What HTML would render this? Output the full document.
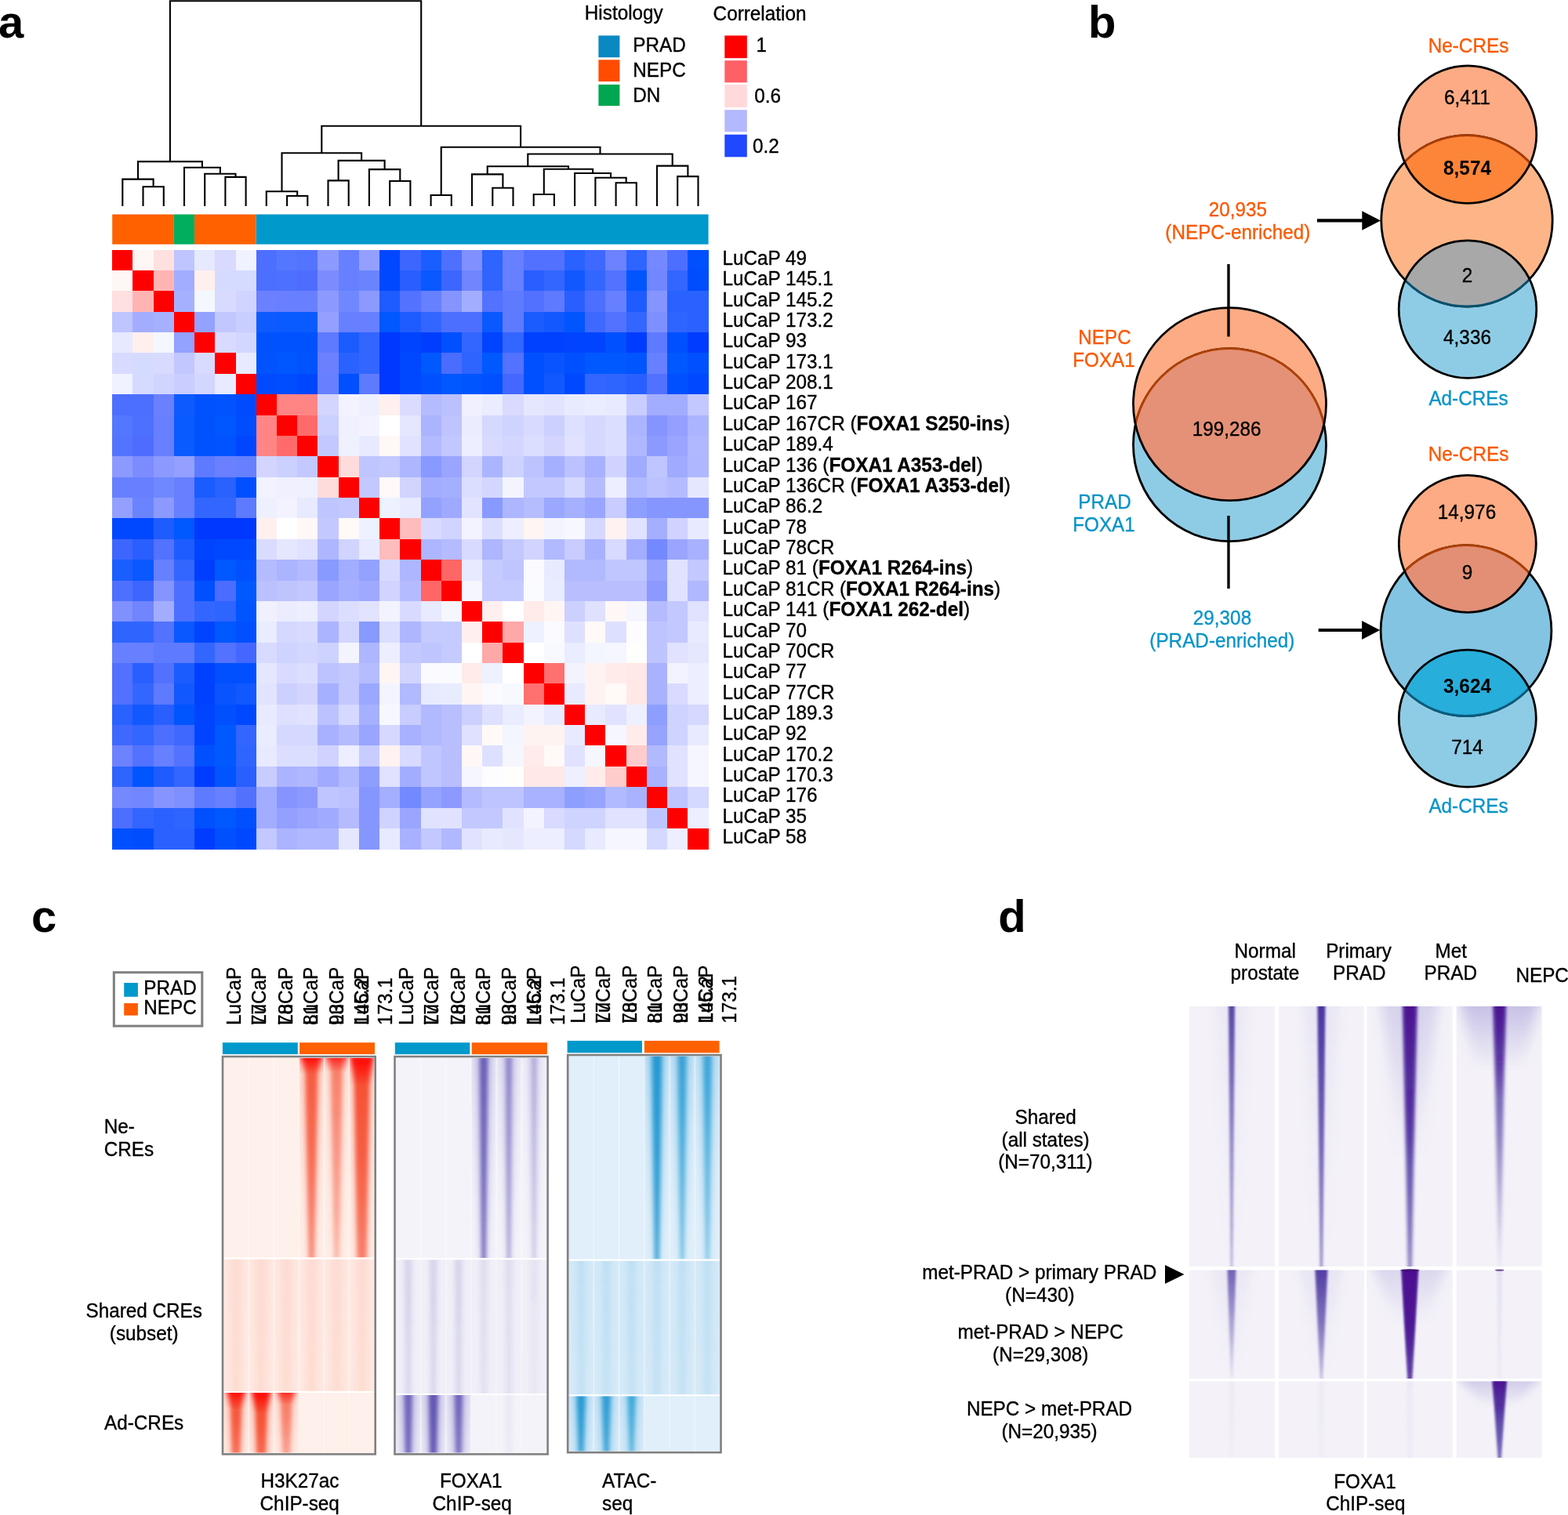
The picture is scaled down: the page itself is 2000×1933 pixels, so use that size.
<!DOCTYPE html>
<html><head><meta charset="utf-8"><title>Figure</title>
<style>
html,body{margin:0;padding:0;background:#fff;}
svg{display:block;}
text{font-family:"Liberation Sans", Arial, Helvetica, sans-serif;font-size:24.3px;}
</style></head><body>
<svg width="2000" height="1933" viewBox="0 0 2000 1933">
<g id="panel-a">
<text x="-2.0" y="48.0" style="font-size:58px" font-weight="bold">a</text>
<path d="M216.9 206.1V1.2H537.2V160.7M176.0 228.6V206.1H257.9V213.7M156.3 263.0V228.6H195.6V238.2M182.5 263.0V238.2H208.8V263.0M235.0 263.0V213.7H280.9V221.8M261.2 263.0V221.8H300.5V225.9M287.4 263.0V225.9H313.6V263.0M410.3 195.3V160.7H664.1V187.8M359.5 244.3V195.3H461.1V204.9M339.8 263.0V244.3H379.2V250.0M366.1 263.0V250.0H392.3V263.0M431.6 230.4V204.9H490.6V216.1M418.5 263.0V230.4H444.7V263.0M470.9 263.0V216.1H510.3V231.0M497.2 263.0V231.0H523.4V263.0M562.7 249.0V187.8H765.5V196.5M549.6 263.0V249.0H575.8V263.0M673.3 212.2V196.5H857.7V211.6M621.7 222.4V212.2H725.0V215.7M602.0 263.0V222.4H641.4V239.8M628.3 263.0V239.8H654.5V263.0M693.8 248.0V215.7H756.1V221.0M680.7 263.0V248.0H706.9V263.0M733.1 263.0V221.0H779.0V226.7M759.4 263.0V226.7H798.7V233.3M785.6 263.0V233.3H811.8V263.0M838.0 263.0V211.6H877.4V225.1M864.2 263.0V225.1H890.5V263.0" fill="none" stroke="#000" stroke-width="2.1" stroke-linecap="butt" stroke-linejoin="miter"/>
<rect x="143.20" y="273.5" width="78.66" height="38.2" fill="#FF6000"/>
<rect x="221.86" y="273.5" width="26.22" height="38.2" fill="#00AE5D"/>
<rect x="248.08" y="273.5" width="78.66" height="38.2" fill="#FF6000"/>
<rect x="326.74" y="273.5" width="576.84" height="38.2" fill="#0099CC"/>
<g shape-rendering="crispEdges">
<rect x="143.20" y="318.60" width="26.62" height="26.77" fill="#FF0000"/>
<rect x="169.42" y="318.60" width="26.62" height="26.77" fill="#FFF7F6"/>
<rect x="195.64" y="318.60" width="26.62" height="26.77" fill="#FFE0E0"/>
<rect x="221.86" y="318.60" width="26.62" height="26.77" fill="#BFC5FF"/>
<rect x="248.08" y="318.60" width="26.62" height="26.77" fill="#E6E9FF"/>
<rect x="274.30" y="318.60" width="26.62" height="26.77" fill="#D8DAFF"/>
<rect x="300.52" y="318.60" width="26.62" height="26.77" fill="#F0F2FF"/>
<rect x="326.74" y="318.60" width="26.62" height="26.77" fill="#4D6FFF"/>
<rect x="352.96" y="318.60" width="26.62" height="26.77" fill="#5477FF"/>
<rect x="379.18" y="318.60" width="26.62" height="26.77" fill="#5274FF"/>
<rect x="405.40" y="318.60" width="26.62" height="26.77" fill="#8C9AFF"/>
<rect x="431.62" y="318.60" width="26.62" height="26.77" fill="#6680FF"/>
<rect x="457.84" y="318.60" width="26.62" height="26.77" fill="#93A0FF"/>
<rect x="484.06" y="318.60" width="26.62" height="26.77" fill="#0048FF"/>
<rect x="510.28" y="318.60" width="26.62" height="26.77" fill="#3D66FF"/>
<rect x="536.50" y="318.60" width="26.62" height="26.77" fill="#1A5EFF"/>
<rect x="562.72" y="318.60" width="26.62" height="26.77" fill="#4D70FF"/>
<rect x="588.94" y="318.60" width="26.62" height="26.77" fill="#8090FF"/>
<rect x="615.16" y="318.60" width="26.62" height="26.77" fill="#2E64FF"/>
<rect x="641.38" y="318.60" width="26.62" height="26.77" fill="#6680FF"/>
<rect x="667.60" y="318.60" width="26.62" height="26.77" fill="#5271FF"/>
<rect x="693.82" y="318.60" width="26.62" height="26.77" fill="#5271FF"/>
<rect x="720.04" y="318.60" width="26.62" height="26.77" fill="#2962FF"/>
<rect x="746.26" y="318.60" width="26.62" height="26.77" fill="#3E68FF"/>
<rect x="772.48" y="318.60" width="26.62" height="26.77" fill="#6C82FF"/>
<rect x="798.70" y="318.60" width="26.62" height="26.77" fill="#2E64FF"/>
<rect x="824.92" y="318.60" width="26.62" height="26.77" fill="#7489FF"/>
<rect x="851.14" y="318.60" width="26.62" height="26.77" fill="#4D6FFF"/>
<rect x="877.36" y="318.60" width="26.62" height="26.77" fill="#0050FF"/>
<rect x="143.20" y="344.97" width="26.62" height="26.77" fill="#FFF7F6"/>
<rect x="169.42" y="344.97" width="26.62" height="26.77" fill="#FF0000"/>
<rect x="195.64" y="344.97" width="26.62" height="26.77" fill="#FFB4B4"/>
<rect x="221.86" y="344.97" width="26.62" height="26.77" fill="#A3ADFF"/>
<rect x="248.08" y="344.97" width="26.62" height="26.77" fill="#FFF0EE"/>
<rect x="274.30" y="344.97" width="26.62" height="26.77" fill="#D5DBFF"/>
<rect x="300.52" y="344.97" width="26.62" height="26.77" fill="#D5DBFF"/>
<rect x="326.74" y="344.97" width="26.62" height="26.77" fill="#4D6FFF"/>
<rect x="352.96" y="344.97" width="26.62" height="26.77" fill="#4E70FF"/>
<rect x="379.18" y="344.97" width="26.62" height="26.77" fill="#4E6DFF"/>
<rect x="405.40" y="344.97" width="26.62" height="26.77" fill="#7C8CFF"/>
<rect x="431.62" y="344.97" width="26.62" height="26.77" fill="#6680FF"/>
<rect x="457.84" y="344.97" width="26.62" height="26.77" fill="#6A84FF"/>
<rect x="484.06" y="344.97" width="26.62" height="26.77" fill="#0048FF"/>
<rect x="510.28" y="344.97" width="26.62" height="26.77" fill="#2A5EFF"/>
<rect x="536.50" y="344.97" width="26.62" height="26.77" fill="#0A58FF"/>
<rect x="562.72" y="344.97" width="26.62" height="26.77" fill="#3D66FF"/>
<rect x="588.94" y="344.97" width="26.62" height="26.77" fill="#7085FF"/>
<rect x="615.16" y="344.97" width="26.62" height="26.77" fill="#3064FF"/>
<rect x="641.38" y="344.97" width="26.62" height="26.77" fill="#6680FF"/>
<rect x="667.60" y="344.97" width="26.62" height="26.77" fill="#295FFF"/>
<rect x="693.82" y="344.97" width="26.62" height="26.77" fill="#3366FF"/>
<rect x="720.04" y="344.97" width="26.62" height="26.77" fill="#1258FF"/>
<rect x="746.26" y="344.97" width="26.62" height="26.77" fill="#3366FF"/>
<rect x="772.48" y="344.97" width="26.62" height="26.77" fill="#5272FF"/>
<rect x="798.70" y="344.97" width="26.62" height="26.77" fill="#0055FF"/>
<rect x="824.92" y="344.97" width="26.62" height="26.77" fill="#7087FF"/>
<rect x="851.14" y="344.97" width="26.62" height="26.77" fill="#3366FF"/>
<rect x="877.36" y="344.97" width="26.62" height="26.77" fill="#004CFF"/>
<rect x="143.20" y="371.34" width="26.62" height="26.77" fill="#FFE0E0"/>
<rect x="169.42" y="371.34" width="26.62" height="26.77" fill="#FFB4B4"/>
<rect x="195.64" y="371.34" width="26.62" height="26.77" fill="#FF0000"/>
<rect x="221.86" y="371.34" width="26.62" height="26.77" fill="#A5B1FF"/>
<rect x="248.08" y="371.34" width="26.62" height="26.77" fill="#F5F7FE"/>
<rect x="274.30" y="371.34" width="26.62" height="26.77" fill="#D8DBFF"/>
<rect x="300.52" y="371.34" width="26.62" height="26.77" fill="#D0D4FF"/>
<rect x="326.74" y="371.34" width="26.62" height="26.77" fill="#6A80FF"/>
<rect x="352.96" y="371.34" width="26.62" height="26.77" fill="#6880FF"/>
<rect x="379.18" y="371.34" width="26.62" height="26.77" fill="#6880FF"/>
<rect x="405.40" y="371.34" width="26.62" height="26.77" fill="#8C9AFF"/>
<rect x="431.62" y="371.34" width="26.62" height="26.77" fill="#7088FF"/>
<rect x="457.84" y="371.34" width="26.62" height="26.77" fill="#8C9AFF"/>
<rect x="484.06" y="371.34" width="26.62" height="26.77" fill="#1E5CFF"/>
<rect x="510.28" y="371.34" width="26.62" height="26.77" fill="#5272FF"/>
<rect x="536.50" y="371.34" width="26.62" height="26.77" fill="#6680FF"/>
<rect x="562.72" y="371.34" width="26.62" height="26.77" fill="#8594FF"/>
<rect x="588.94" y="371.34" width="26.62" height="26.77" fill="#A3ADFF"/>
<rect x="615.16" y="371.34" width="26.62" height="26.77" fill="#5272FF"/>
<rect x="641.38" y="371.34" width="26.62" height="26.77" fill="#5E7AFF"/>
<rect x="667.60" y="371.34" width="26.62" height="26.77" fill="#5271FF"/>
<rect x="693.82" y="371.34" width="26.62" height="26.77" fill="#5E7AFF"/>
<rect x="720.04" y="371.34" width="26.62" height="26.77" fill="#295FFF"/>
<rect x="746.26" y="371.34" width="26.62" height="26.77" fill="#4D6FFF"/>
<rect x="772.48" y="371.34" width="26.62" height="26.77" fill="#6680FF"/>
<rect x="798.70" y="371.34" width="26.62" height="26.77" fill="#1E5CFF"/>
<rect x="824.92" y="371.34" width="26.62" height="26.77" fill="#8594FF"/>
<rect x="851.14" y="371.34" width="26.62" height="26.77" fill="#2962FF"/>
<rect x="877.36" y="371.34" width="26.62" height="26.77" fill="#2962FF"/>
<rect x="143.20" y="397.71" width="26.62" height="26.77" fill="#BFC5FF"/>
<rect x="169.42" y="397.71" width="26.62" height="26.77" fill="#A3ADFF"/>
<rect x="195.64" y="397.71" width="26.62" height="26.77" fill="#A5B1FF"/>
<rect x="221.86" y="397.71" width="26.62" height="26.77" fill="#FF0000"/>
<rect x="248.08" y="397.71" width="26.62" height="26.77" fill="#93A1FF"/>
<rect x="274.30" y="397.71" width="26.62" height="26.77" fill="#C3C7FF"/>
<rect x="300.52" y="397.71" width="26.62" height="26.77" fill="#C9CDFF"/>
<rect x="326.74" y="397.71" width="26.62" height="26.77" fill="#0D5BFF"/>
<rect x="352.96" y="397.71" width="26.62" height="26.77" fill="#0A5BFF"/>
<rect x="379.18" y="397.71" width="26.62" height="26.77" fill="#0A5BFF"/>
<rect x="405.40" y="397.71" width="26.62" height="26.77" fill="#93A0FF"/>
<rect x="431.62" y="397.71" width="26.62" height="26.77" fill="#6680FF"/>
<rect x="457.84" y="397.71" width="26.62" height="26.77" fill="#6680FF"/>
<rect x="484.06" y="397.71" width="26.62" height="26.77" fill="#0058FF"/>
<rect x="510.28" y="397.71" width="26.62" height="26.77" fill="#1E5CFF"/>
<rect x="536.50" y="397.71" width="26.62" height="26.77" fill="#3366FF"/>
<rect x="562.72" y="397.71" width="26.62" height="26.77" fill="#4D6FFF"/>
<rect x="588.94" y="397.71" width="26.62" height="26.77" fill="#4D6FFF"/>
<rect x="615.16" y="397.71" width="26.62" height="26.77" fill="#0A58FF"/>
<rect x="641.38" y="397.71" width="26.62" height="26.77" fill="#5E7AFF"/>
<rect x="667.60" y="397.71" width="26.62" height="26.77" fill="#1A5CFF"/>
<rect x="693.82" y="397.71" width="26.62" height="26.77" fill="#1258FF"/>
<rect x="720.04" y="397.71" width="26.62" height="26.77" fill="#0055FF"/>
<rect x="746.26" y="397.71" width="26.62" height="26.77" fill="#3E68FF"/>
<rect x="772.48" y="397.71" width="26.62" height="26.77" fill="#5272FF"/>
<rect x="798.70" y="397.71" width="26.62" height="26.77" fill="#3366FF"/>
<rect x="824.92" y="397.71" width="26.62" height="26.77" fill="#7E90FF"/>
<rect x="851.14" y="397.71" width="26.62" height="26.77" fill="#2E64FF"/>
<rect x="877.36" y="397.71" width="26.62" height="26.77" fill="#2962FF"/>
<rect x="143.20" y="424.08" width="26.62" height="26.77" fill="#E6E9FF"/>
<rect x="169.42" y="424.08" width="26.62" height="26.77" fill="#FFF0EE"/>
<rect x="195.64" y="424.08" width="26.62" height="26.77" fill="#F5F7FE"/>
<rect x="221.86" y="424.08" width="26.62" height="26.77" fill="#93A1FF"/>
<rect x="248.08" y="424.08" width="26.62" height="26.77" fill="#FF0000"/>
<rect x="274.30" y="424.08" width="26.62" height="26.77" fill="#D8DBFF"/>
<rect x="300.52" y="424.08" width="26.62" height="26.77" fill="#D3D6FF"/>
<rect x="326.74" y="424.08" width="26.62" height="26.77" fill="#0052FF"/>
<rect x="352.96" y="424.08" width="26.62" height="26.77" fill="#0052FF"/>
<rect x="379.18" y="424.08" width="26.62" height="26.77" fill="#0052FF"/>
<rect x="405.40" y="424.08" width="26.62" height="26.77" fill="#5E7AFF"/>
<rect x="431.62" y="424.08" width="26.62" height="26.77" fill="#1A5CFF"/>
<rect x="457.84" y="424.08" width="26.62" height="26.77" fill="#3366FF"/>
<rect x="484.06" y="424.08" width="26.62" height="26.77" fill="#0038FF"/>
<rect x="510.28" y="424.08" width="26.62" height="26.77" fill="#0044FF"/>
<rect x="536.50" y="424.08" width="26.62" height="26.77" fill="#003EFF"/>
<rect x="562.72" y="424.08" width="26.62" height="26.77" fill="#0050FF"/>
<rect x="588.94" y="424.08" width="26.62" height="26.77" fill="#3366FF"/>
<rect x="615.16" y="424.08" width="26.62" height="26.77" fill="#0044FF"/>
<rect x="641.38" y="424.08" width="26.62" height="26.77" fill="#3366FF"/>
<rect x="667.60" y="424.08" width="26.62" height="26.77" fill="#0040FF"/>
<rect x="693.82" y="424.08" width="26.62" height="26.77" fill="#0040FF"/>
<rect x="720.04" y="424.08" width="26.62" height="26.77" fill="#0044FF"/>
<rect x="746.26" y="424.08" width="26.62" height="26.77" fill="#0044FF"/>
<rect x="772.48" y="424.08" width="26.62" height="26.77" fill="#0050FF"/>
<rect x="798.70" y="424.08" width="26.62" height="26.77" fill="#003CFF"/>
<rect x="824.92" y="424.08" width="26.62" height="26.77" fill="#5E7AFF"/>
<rect x="851.14" y="424.08" width="26.62" height="26.77" fill="#0050FF"/>
<rect x="877.36" y="424.08" width="26.62" height="26.77" fill="#003CFF"/>
<rect x="143.20" y="450.45" width="26.62" height="26.77" fill="#D8DAFF"/>
<rect x="169.42" y="450.45" width="26.62" height="26.77" fill="#D5DBFF"/>
<rect x="195.64" y="450.45" width="26.62" height="26.77" fill="#D8DBFF"/>
<rect x="221.86" y="450.45" width="26.62" height="26.77" fill="#C3C7FF"/>
<rect x="248.08" y="450.45" width="26.62" height="26.77" fill="#D8DBFF"/>
<rect x="274.30" y="450.45" width="26.62" height="26.77" fill="#FF0000"/>
<rect x="300.52" y="450.45" width="26.62" height="26.77" fill="#E8EAFF"/>
<rect x="326.74" y="450.45" width="26.62" height="26.77" fill="#0053FF"/>
<rect x="352.96" y="450.45" width="26.62" height="26.77" fill="#0057FF"/>
<rect x="379.18" y="450.45" width="26.62" height="26.77" fill="#0053FF"/>
<rect x="405.40" y="450.45" width="26.62" height="26.77" fill="#6A80FF"/>
<rect x="431.62" y="450.45" width="26.62" height="26.77" fill="#2962FF"/>
<rect x="457.84" y="450.45" width="26.62" height="26.77" fill="#3366FF"/>
<rect x="484.06" y="450.45" width="26.62" height="26.77" fill="#0038FF"/>
<rect x="510.28" y="450.45" width="26.62" height="26.77" fill="#0048FF"/>
<rect x="536.50" y="450.45" width="26.62" height="26.77" fill="#0058FF"/>
<rect x="562.72" y="450.45" width="26.62" height="26.77" fill="#4A6CFF"/>
<rect x="588.94" y="450.45" width="26.62" height="26.77" fill="#2E64FF"/>
<rect x="615.16" y="450.45" width="26.62" height="26.77" fill="#0058FF"/>
<rect x="641.38" y="450.45" width="26.62" height="26.77" fill="#5272FF"/>
<rect x="667.60" y="450.45" width="26.62" height="26.77" fill="#0050FF"/>
<rect x="693.82" y="450.45" width="26.62" height="26.77" fill="#0A54FF"/>
<rect x="720.04" y="450.45" width="26.62" height="26.77" fill="#0050FF"/>
<rect x="746.26" y="450.45" width="26.62" height="26.77" fill="#0058FF"/>
<rect x="772.48" y="450.45" width="26.62" height="26.77" fill="#0058FF"/>
<rect x="798.70" y="450.45" width="26.62" height="26.77" fill="#0055FF"/>
<rect x="824.92" y="450.45" width="26.62" height="26.77" fill="#6680FF"/>
<rect x="851.14" y="450.45" width="26.62" height="26.77" fill="#0058FF"/>
<rect x="877.36" y="450.45" width="26.62" height="26.77" fill="#0050FF"/>
<rect x="143.20" y="476.82" width="26.62" height="26.77" fill="#F0F2FF"/>
<rect x="169.42" y="476.82" width="26.62" height="26.77" fill="#D5DBFF"/>
<rect x="195.64" y="476.82" width="26.62" height="26.77" fill="#D0D4FF"/>
<rect x="221.86" y="476.82" width="26.62" height="26.77" fill="#C9CDFF"/>
<rect x="248.08" y="476.82" width="26.62" height="26.77" fill="#D3D6FF"/>
<rect x="274.30" y="476.82" width="26.62" height="26.77" fill="#E8EAFF"/>
<rect x="300.52" y="476.82" width="26.62" height="26.77" fill="#FF0000"/>
<rect x="326.74" y="476.82" width="26.62" height="26.77" fill="#004AFF"/>
<rect x="352.96" y="476.82" width="26.62" height="26.77" fill="#004CFF"/>
<rect x="379.18" y="476.82" width="26.62" height="26.77" fill="#0046FF"/>
<rect x="405.40" y="476.82" width="26.62" height="26.77" fill="#6680FF"/>
<rect x="431.62" y="476.82" width="26.62" height="26.77" fill="#0050FF"/>
<rect x="457.84" y="476.82" width="26.62" height="26.77" fill="#5E7AFF"/>
<rect x="484.06" y="476.82" width="26.62" height="26.77" fill="#0038FF"/>
<rect x="510.28" y="476.82" width="26.62" height="26.77" fill="#0048FF"/>
<rect x="536.50" y="476.82" width="26.62" height="26.77" fill="#0050FF"/>
<rect x="562.72" y="476.82" width="26.62" height="26.77" fill="#0058FF"/>
<rect x="588.94" y="476.82" width="26.62" height="26.77" fill="#0055FF"/>
<rect x="615.16" y="476.82" width="26.62" height="26.77" fill="#0050FF"/>
<rect x="641.38" y="476.82" width="26.62" height="26.77" fill="#4468FF"/>
<rect x="667.60" y="476.82" width="26.62" height="26.77" fill="#0050FF"/>
<rect x="693.82" y="476.82" width="26.62" height="26.77" fill="#1258FF"/>
<rect x="720.04" y="476.82" width="26.62" height="26.77" fill="#0048FF"/>
<rect x="746.26" y="476.82" width="26.62" height="26.77" fill="#3366FF"/>
<rect x="772.48" y="476.82" width="26.62" height="26.77" fill="#2E64FF"/>
<rect x="798.70" y="476.82" width="26.62" height="26.77" fill="#295FFF"/>
<rect x="824.92" y="476.82" width="26.62" height="26.77" fill="#5271FF"/>
<rect x="851.14" y="476.82" width="26.62" height="26.77" fill="#0050FF"/>
<rect x="877.36" y="476.82" width="26.62" height="26.77" fill="#0048FF"/>
<rect x="143.20" y="503.19" width="26.62" height="26.77" fill="#4D6FFF"/>
<rect x="169.42" y="503.19" width="26.62" height="26.77" fill="#4D6FFF"/>
<rect x="195.64" y="503.19" width="26.62" height="26.77" fill="#6A80FF"/>
<rect x="221.86" y="503.19" width="26.62" height="26.77" fill="#0D5BFF"/>
<rect x="248.08" y="503.19" width="26.62" height="26.77" fill="#0052FF"/>
<rect x="274.30" y="503.19" width="26.62" height="26.77" fill="#0053FF"/>
<rect x="300.52" y="503.19" width="26.62" height="26.77" fill="#004AFF"/>
<rect x="326.74" y="503.19" width="26.62" height="26.77" fill="#FF0000"/>
<rect x="352.96" y="503.19" width="26.62" height="26.77" fill="#FF8585"/>
<rect x="379.18" y="503.19" width="26.62" height="26.77" fill="#FF8585"/>
<rect x="405.40" y="503.19" width="26.62" height="26.77" fill="#D3D5FF"/>
<rect x="431.62" y="503.19" width="26.62" height="26.77" fill="#F3F3FF"/>
<rect x="457.84" y="503.19" width="26.62" height="26.77" fill="#EEF0FF"/>
<rect x="484.06" y="503.19" width="26.62" height="26.77" fill="#FFF0EE"/>
<rect x="510.28" y="503.19" width="26.62" height="26.77" fill="#DADCFF"/>
<rect x="536.50" y="503.19" width="26.62" height="26.77" fill="#B5BBFF"/>
<rect x="562.72" y="503.19" width="26.62" height="26.77" fill="#BBC0FF"/>
<rect x="588.94" y="503.19" width="26.62" height="26.77" fill="#F0F0FF"/>
<rect x="615.16" y="503.19" width="26.62" height="26.77" fill="#EAECFF"/>
<rect x="641.38" y="503.19" width="26.62" height="26.77" fill="#D8DBFF"/>
<rect x="667.60" y="503.19" width="26.62" height="26.77" fill="#E5E7FF"/>
<rect x="693.82" y="503.19" width="26.62" height="26.77" fill="#E2E4FF"/>
<rect x="720.04" y="503.19" width="26.62" height="26.77" fill="#E8EAFF"/>
<rect x="746.26" y="503.19" width="26.62" height="26.77" fill="#EAECFF"/>
<rect x="772.48" y="503.19" width="26.62" height="26.77" fill="#E8EAFF"/>
<rect x="798.70" y="503.19" width="26.62" height="26.77" fill="#C8CCFF"/>
<rect x="824.92" y="503.19" width="26.62" height="26.77" fill="#A3ADFF"/>
<rect x="851.14" y="503.19" width="26.62" height="26.77" fill="#A3ADFF"/>
<rect x="877.36" y="503.19" width="26.62" height="26.77" fill="#C3C8FF"/>
<rect x="143.20" y="529.56" width="26.62" height="26.77" fill="#5477FF"/>
<rect x="169.42" y="529.56" width="26.62" height="26.77" fill="#4E70FF"/>
<rect x="195.64" y="529.56" width="26.62" height="26.77" fill="#6880FF"/>
<rect x="221.86" y="529.56" width="26.62" height="26.77" fill="#0A5BFF"/>
<rect x="248.08" y="529.56" width="26.62" height="26.77" fill="#0052FF"/>
<rect x="274.30" y="529.56" width="26.62" height="26.77" fill="#0057FF"/>
<rect x="300.52" y="529.56" width="26.62" height="26.77" fill="#004CFF"/>
<rect x="326.74" y="529.56" width="26.62" height="26.77" fill="#FF8585"/>
<rect x="352.96" y="529.56" width="26.62" height="26.77" fill="#FF0000"/>
<rect x="379.18" y="529.56" width="26.62" height="26.77" fill="#FF6B6B"/>
<rect x="405.40" y="529.56" width="26.62" height="26.77" fill="#CBD0FF"/>
<rect x="431.62" y="529.56" width="26.62" height="26.77" fill="#F0F0FF"/>
<rect x="457.84" y="529.56" width="26.62" height="26.77" fill="#F3F3FF"/>
<rect x="484.06" y="529.56" width="26.62" height="26.77" fill="#FFFFFF"/>
<rect x="510.28" y="529.56" width="26.62" height="26.77" fill="#E5E6FF"/>
<rect x="536.50" y="529.56" width="26.62" height="26.77" fill="#ABB4FF"/>
<rect x="562.72" y="529.56" width="26.62" height="26.77" fill="#BFC4FF"/>
<rect x="588.94" y="529.56" width="26.62" height="26.77" fill="#EBEDFF"/>
<rect x="615.16" y="529.56" width="26.62" height="26.77" fill="#D5D8FF"/>
<rect x="641.38" y="529.56" width="26.62" height="26.77" fill="#CED3FF"/>
<rect x="667.60" y="529.56" width="26.62" height="26.77" fill="#D8DBFF"/>
<rect x="693.82" y="529.56" width="26.62" height="26.77" fill="#CBD0FF"/>
<rect x="720.04" y="529.56" width="26.62" height="26.77" fill="#DEE0FF"/>
<rect x="746.26" y="529.56" width="26.62" height="26.77" fill="#D5D8FF"/>
<rect x="772.48" y="529.56" width="26.62" height="26.77" fill="#DCDEFF"/>
<rect x="798.70" y="529.56" width="26.62" height="26.77" fill="#ABB4FF"/>
<rect x="824.92" y="529.56" width="26.62" height="26.77" fill="#8594FF"/>
<rect x="851.14" y="529.56" width="26.62" height="26.77" fill="#93A0FF"/>
<rect x="877.36" y="529.56" width="26.62" height="26.77" fill="#ABB4FF"/>
<rect x="143.20" y="555.93" width="26.62" height="26.77" fill="#5274FF"/>
<rect x="169.42" y="555.93" width="26.62" height="26.77" fill="#4E6DFF"/>
<rect x="195.64" y="555.93" width="26.62" height="26.77" fill="#6880FF"/>
<rect x="221.86" y="555.93" width="26.62" height="26.77" fill="#0A5BFF"/>
<rect x="248.08" y="555.93" width="26.62" height="26.77" fill="#0052FF"/>
<rect x="274.30" y="555.93" width="26.62" height="26.77" fill="#0053FF"/>
<rect x="300.52" y="555.93" width="26.62" height="26.77" fill="#0046FF"/>
<rect x="326.74" y="555.93" width="26.62" height="26.77" fill="#FF8585"/>
<rect x="352.96" y="555.93" width="26.62" height="26.77" fill="#FF6B6B"/>
<rect x="379.18" y="555.93" width="26.62" height="26.77" fill="#FF0000"/>
<rect x="405.40" y="555.93" width="26.62" height="26.77" fill="#C3C8FF"/>
<rect x="431.62" y="555.93" width="26.62" height="26.77" fill="#F0F1FF"/>
<rect x="457.84" y="555.93" width="26.62" height="26.77" fill="#E8EAFF"/>
<rect x="484.06" y="555.93" width="26.62" height="26.77" fill="#FFF8F6"/>
<rect x="510.28" y="555.93" width="26.62" height="26.77" fill="#E0E2FF"/>
<rect x="536.50" y="555.93" width="26.62" height="26.77" fill="#B3BAFF"/>
<rect x="562.72" y="555.93" width="26.62" height="26.77" fill="#C3C7FF"/>
<rect x="588.94" y="555.93" width="26.62" height="26.77" fill="#EDEEFF"/>
<rect x="615.16" y="555.93" width="26.62" height="26.77" fill="#D8DBFF"/>
<rect x="641.38" y="555.93" width="26.62" height="26.77" fill="#D3D6FF"/>
<rect x="667.60" y="555.93" width="26.62" height="26.77" fill="#DCDEFF"/>
<rect x="693.82" y="555.93" width="26.62" height="26.77" fill="#D3D5FF"/>
<rect x="720.04" y="555.93" width="26.62" height="26.77" fill="#E0E2FF"/>
<rect x="746.26" y="555.93" width="26.62" height="26.77" fill="#D5D8FF"/>
<rect x="772.48" y="555.93" width="26.62" height="26.77" fill="#DCDEFF"/>
<rect x="798.70" y="555.93" width="26.62" height="26.77" fill="#AFB8FF"/>
<rect x="824.92" y="555.93" width="26.62" height="26.77" fill="#8C9AFF"/>
<rect x="851.14" y="555.93" width="26.62" height="26.77" fill="#9AA5FF"/>
<rect x="877.36" y="555.93" width="26.62" height="26.77" fill="#B0B8FF"/>
<rect x="143.20" y="582.30" width="26.62" height="26.77" fill="#8C9AFF"/>
<rect x="169.42" y="582.30" width="26.62" height="26.77" fill="#7C8CFF"/>
<rect x="195.64" y="582.30" width="26.62" height="26.77" fill="#8C9AFF"/>
<rect x="221.86" y="582.30" width="26.62" height="26.77" fill="#93A0FF"/>
<rect x="248.08" y="582.30" width="26.62" height="26.77" fill="#5E7AFF"/>
<rect x="274.30" y="582.30" width="26.62" height="26.77" fill="#6A80FF"/>
<rect x="300.52" y="582.30" width="26.62" height="26.77" fill="#6680FF"/>
<rect x="326.74" y="582.30" width="26.62" height="26.77" fill="#D3D5FF"/>
<rect x="352.96" y="582.30" width="26.62" height="26.77" fill="#CBD0FF"/>
<rect x="379.18" y="582.30" width="26.62" height="26.77" fill="#C3C8FF"/>
<rect x="405.40" y="582.30" width="26.62" height="26.77" fill="#FF0000"/>
<rect x="431.62" y="582.30" width="26.62" height="26.77" fill="#FFDCDC"/>
<rect x="457.84" y="582.30" width="26.62" height="26.77" fill="#BFC6FF"/>
<rect x="484.06" y="582.30" width="26.62" height="26.77" fill="#C3C8FF"/>
<rect x="510.28" y="582.30" width="26.62" height="26.77" fill="#ADB6FF"/>
<rect x="536.50" y="582.30" width="26.62" height="26.77" fill="#8899FF"/>
<rect x="562.72" y="582.30" width="26.62" height="26.77" fill="#9AA5FF"/>
<rect x="588.94" y="582.30" width="26.62" height="26.77" fill="#D3D5FF"/>
<rect x="615.16" y="582.30" width="26.62" height="26.77" fill="#ABB4FF"/>
<rect x="641.38" y="582.30" width="26.62" height="26.77" fill="#CDD2FF"/>
<rect x="667.60" y="582.30" width="26.62" height="26.77" fill="#BDC3FF"/>
<rect x="693.82" y="582.30" width="26.62" height="26.77" fill="#A5B0FF"/>
<rect x="720.04" y="582.30" width="26.62" height="26.77" fill="#BBC2FF"/>
<rect x="746.26" y="582.30" width="26.62" height="26.77" fill="#A8B1FF"/>
<rect x="772.48" y="582.30" width="26.62" height="26.77" fill="#D0D3FF"/>
<rect x="798.70" y="582.30" width="26.62" height="26.77" fill="#A0ABFF"/>
<rect x="824.92" y="582.30" width="26.62" height="26.77" fill="#BFC5FF"/>
<rect x="851.14" y="582.30" width="26.62" height="26.77" fill="#A0ABFF"/>
<rect x="877.36" y="582.30" width="26.62" height="26.77" fill="#AFB8FF"/>
<rect x="143.20" y="608.67" width="26.62" height="26.77" fill="#6680FF"/>
<rect x="169.42" y="608.67" width="26.62" height="26.77" fill="#6680FF"/>
<rect x="195.64" y="608.67" width="26.62" height="26.77" fill="#7088FF"/>
<rect x="221.86" y="608.67" width="26.62" height="26.77" fill="#6680FF"/>
<rect x="248.08" y="608.67" width="26.62" height="26.77" fill="#1A5CFF"/>
<rect x="274.30" y="608.67" width="26.62" height="26.77" fill="#2962FF"/>
<rect x="300.52" y="608.67" width="26.62" height="26.77" fill="#0050FF"/>
<rect x="326.74" y="608.67" width="26.62" height="26.77" fill="#F3F3FF"/>
<rect x="352.96" y="608.67" width="26.62" height="26.77" fill="#F0F0FF"/>
<rect x="379.18" y="608.67" width="26.62" height="26.77" fill="#F0F1FF"/>
<rect x="405.40" y="608.67" width="26.62" height="26.77" fill="#FFDCDC"/>
<rect x="431.62" y="608.67" width="26.62" height="26.77" fill="#FF0000"/>
<rect x="457.84" y="608.67" width="26.62" height="26.77" fill="#C3C8FF"/>
<rect x="484.06" y="608.67" width="26.62" height="26.77" fill="#FFF9F8"/>
<rect x="510.28" y="608.67" width="26.62" height="26.77" fill="#D0D4FF"/>
<rect x="536.50" y="608.67" width="26.62" height="26.77" fill="#A3ADFF"/>
<rect x="562.72" y="608.67" width="26.62" height="26.77" fill="#A5AFFF"/>
<rect x="588.94" y="608.67" width="26.62" height="26.77" fill="#DCDEFF"/>
<rect x="615.16" y="608.67" width="26.62" height="26.77" fill="#D3D6FF"/>
<rect x="641.38" y="608.67" width="26.62" height="26.77" fill="#F3F4FF"/>
<rect x="667.60" y="608.67" width="26.62" height="26.77" fill="#C3C8FF"/>
<rect x="693.82" y="608.67" width="26.62" height="26.77" fill="#C3C8FF"/>
<rect x="720.04" y="608.67" width="26.62" height="26.77" fill="#D5D8FF"/>
<rect x="746.26" y="608.67" width="26.62" height="26.77" fill="#B5BBFF"/>
<rect x="772.48" y="608.67" width="26.62" height="26.77" fill="#EDEEFF"/>
<rect x="798.70" y="608.67" width="26.62" height="26.77" fill="#B1B9FF"/>
<rect x="824.92" y="608.67" width="26.62" height="26.77" fill="#BCC2FF"/>
<rect x="851.14" y="608.67" width="26.62" height="26.77" fill="#B5BBFF"/>
<rect x="877.36" y="608.67" width="26.62" height="26.77" fill="#E5E7FF"/>
<rect x="143.20" y="635.04" width="26.62" height="26.77" fill="#93A0FF"/>
<rect x="169.42" y="635.04" width="26.62" height="26.77" fill="#6A84FF"/>
<rect x="195.64" y="635.04" width="26.62" height="26.77" fill="#8C9AFF"/>
<rect x="221.86" y="635.04" width="26.62" height="26.77" fill="#6680FF"/>
<rect x="248.08" y="635.04" width="26.62" height="26.77" fill="#3366FF"/>
<rect x="274.30" y="635.04" width="26.62" height="26.77" fill="#3366FF"/>
<rect x="300.52" y="635.04" width="26.62" height="26.77" fill="#5E7AFF"/>
<rect x="326.74" y="635.04" width="26.62" height="26.77" fill="#EEF0FF"/>
<rect x="352.96" y="635.04" width="26.62" height="26.77" fill="#F3F3FF"/>
<rect x="379.18" y="635.04" width="26.62" height="26.77" fill="#E8EAFF"/>
<rect x="405.40" y="635.04" width="26.62" height="26.77" fill="#BFC6FF"/>
<rect x="431.62" y="635.04" width="26.62" height="26.77" fill="#C3C8FF"/>
<rect x="457.84" y="635.04" width="26.62" height="26.77" fill="#FF0000"/>
<rect x="484.06" y="635.04" width="26.62" height="26.77" fill="#EEF1FF"/>
<rect x="510.28" y="635.04" width="26.62" height="26.77" fill="#E8EAFF"/>
<rect x="536.50" y="635.04" width="26.62" height="26.77" fill="#93A1FF"/>
<rect x="562.72" y="635.04" width="26.62" height="26.77" fill="#9EA9FF"/>
<rect x="588.94" y="635.04" width="26.62" height="26.77" fill="#E2E4FF"/>
<rect x="615.16" y="635.04" width="26.62" height="26.77" fill="#8899FF"/>
<rect x="641.38" y="635.04" width="26.62" height="26.77" fill="#ADB6FF"/>
<rect x="667.60" y="635.04" width="26.62" height="26.77" fill="#B5BDFF"/>
<rect x="693.82" y="635.04" width="26.62" height="26.77" fill="#9AA8FF"/>
<rect x="720.04" y="635.04" width="26.62" height="26.77" fill="#A5B0FF"/>
<rect x="746.26" y="635.04" width="26.62" height="26.77" fill="#9AA5FF"/>
<rect x="772.48" y="635.04" width="26.62" height="26.77" fill="#C8CCFF"/>
<rect x="798.70" y="635.04" width="26.62" height="26.77" fill="#8E9EFF"/>
<rect x="824.92" y="635.04" width="26.62" height="26.77" fill="#8696FF"/>
<rect x="851.14" y="635.04" width="26.62" height="26.77" fill="#8696FF"/>
<rect x="877.36" y="635.04" width="26.62" height="26.77" fill="#8696FF"/>
<rect x="143.20" y="661.41" width="26.62" height="26.77" fill="#0048FF"/>
<rect x="169.42" y="661.41" width="26.62" height="26.77" fill="#0048FF"/>
<rect x="195.64" y="661.41" width="26.62" height="26.77" fill="#1E5CFF"/>
<rect x="221.86" y="661.41" width="26.62" height="26.77" fill="#0058FF"/>
<rect x="248.08" y="661.41" width="26.62" height="26.77" fill="#0038FF"/>
<rect x="274.30" y="661.41" width="26.62" height="26.77" fill="#0038FF"/>
<rect x="300.52" y="661.41" width="26.62" height="26.77" fill="#0038FF"/>
<rect x="326.74" y="661.41" width="26.62" height="26.77" fill="#FFF0EE"/>
<rect x="352.96" y="661.41" width="26.62" height="26.77" fill="#FFFFFF"/>
<rect x="379.18" y="661.41" width="26.62" height="26.77" fill="#FFF8F6"/>
<rect x="405.40" y="661.41" width="26.62" height="26.77" fill="#C3C8FF"/>
<rect x="431.62" y="661.41" width="26.62" height="26.77" fill="#FFF9F8"/>
<rect x="457.84" y="661.41" width="26.62" height="26.77" fill="#EEF1FF"/>
<rect x="484.06" y="661.41" width="26.62" height="26.77" fill="#FF0000"/>
<rect x="510.28" y="661.41" width="26.62" height="26.77" fill="#FFBCBC"/>
<rect x="536.50" y="661.41" width="26.62" height="26.77" fill="#D8DBFF"/>
<rect x="562.72" y="661.41" width="26.62" height="26.77" fill="#D0D4FF"/>
<rect x="588.94" y="661.41" width="26.62" height="26.77" fill="#F3F3FF"/>
<rect x="615.16" y="661.41" width="26.62" height="26.77" fill="#DCDEFF"/>
<rect x="641.38" y="661.41" width="26.62" height="26.77" fill="#EDEEFF"/>
<rect x="667.60" y="661.41" width="26.62" height="26.77" fill="#FFF5F3"/>
<rect x="693.82" y="661.41" width="26.62" height="26.77" fill="#F3F4FF"/>
<rect x="720.04" y="661.41" width="26.62" height="26.77" fill="#F7F8FF"/>
<rect x="746.26" y="661.41" width="26.62" height="26.77" fill="#D5D8FF"/>
<rect x="772.48" y="661.41" width="26.62" height="26.77" fill="#FFF2F0"/>
<rect x="798.70" y="661.41" width="26.62" height="26.77" fill="#E0E2FF"/>
<rect x="824.92" y="661.41" width="26.62" height="26.77" fill="#A5AFFF"/>
<rect x="851.14" y="661.41" width="26.62" height="26.77" fill="#D0D3FF"/>
<rect x="877.36" y="661.41" width="26.62" height="26.77" fill="#E8EAFF"/>
<rect x="143.20" y="687.78" width="26.62" height="26.77" fill="#3D66FF"/>
<rect x="169.42" y="687.78" width="26.62" height="26.77" fill="#2A5EFF"/>
<rect x="195.64" y="687.78" width="26.62" height="26.77" fill="#5272FF"/>
<rect x="221.86" y="687.78" width="26.62" height="26.77" fill="#1E5CFF"/>
<rect x="248.08" y="687.78" width="26.62" height="26.77" fill="#0044FF"/>
<rect x="274.30" y="687.78" width="26.62" height="26.77" fill="#0048FF"/>
<rect x="300.52" y="687.78" width="26.62" height="26.77" fill="#0048FF"/>
<rect x="326.74" y="687.78" width="26.62" height="26.77" fill="#DADCFF"/>
<rect x="352.96" y="687.78" width="26.62" height="26.77" fill="#E5E6FF"/>
<rect x="379.18" y="687.78" width="26.62" height="26.77" fill="#E0E2FF"/>
<rect x="405.40" y="687.78" width="26.62" height="26.77" fill="#ADB6FF"/>
<rect x="431.62" y="687.78" width="26.62" height="26.77" fill="#D0D4FF"/>
<rect x="457.84" y="687.78" width="26.62" height="26.77" fill="#E8EAFF"/>
<rect x="484.06" y="687.78" width="26.62" height="26.77" fill="#FFBCBC"/>
<rect x="510.28" y="687.78" width="26.62" height="26.77" fill="#FF0000"/>
<rect x="536.50" y="687.78" width="26.62" height="26.77" fill="#ADB6FF"/>
<rect x="562.72" y="687.78" width="26.62" height="26.77" fill="#B5BBFF"/>
<rect x="588.94" y="687.78" width="26.62" height="26.77" fill="#D8DAFF"/>
<rect x="615.16" y="687.78" width="26.62" height="26.77" fill="#ADB6FF"/>
<rect x="641.38" y="687.78" width="26.62" height="26.77" fill="#C3C8FF"/>
<rect x="667.60" y="687.78" width="26.62" height="26.77" fill="#D0D4FF"/>
<rect x="693.82" y="687.78" width="26.62" height="26.77" fill="#B1B9FF"/>
<rect x="720.04" y="687.78" width="26.62" height="26.77" fill="#C8CCFF"/>
<rect x="746.26" y="687.78" width="26.62" height="26.77" fill="#A8B1FF"/>
<rect x="772.48" y="687.78" width="26.62" height="26.77" fill="#D8DAFF"/>
<rect x="798.70" y="687.78" width="26.62" height="26.77" fill="#A3ADFF"/>
<rect x="824.92" y="687.78" width="26.62" height="26.77" fill="#7389FF"/>
<rect x="851.14" y="687.78" width="26.62" height="26.77" fill="#9AA5FF"/>
<rect x="877.36" y="687.78" width="26.62" height="26.77" fill="#A8B1FF"/>
<rect x="143.20" y="714.15" width="26.62" height="26.77" fill="#1A5EFF"/>
<rect x="169.42" y="714.15" width="26.62" height="26.77" fill="#0A58FF"/>
<rect x="195.64" y="714.15" width="26.62" height="26.77" fill="#6680FF"/>
<rect x="221.86" y="714.15" width="26.62" height="26.77" fill="#3366FF"/>
<rect x="248.08" y="714.15" width="26.62" height="26.77" fill="#003EFF"/>
<rect x="274.30" y="714.15" width="26.62" height="26.77" fill="#0058FF"/>
<rect x="300.52" y="714.15" width="26.62" height="26.77" fill="#0050FF"/>
<rect x="326.74" y="714.15" width="26.62" height="26.77" fill="#B5BBFF"/>
<rect x="352.96" y="714.15" width="26.62" height="26.77" fill="#ABB4FF"/>
<rect x="379.18" y="714.15" width="26.62" height="26.77" fill="#B3BAFF"/>
<rect x="405.40" y="714.15" width="26.62" height="26.77" fill="#8899FF"/>
<rect x="431.62" y="714.15" width="26.62" height="26.77" fill="#A3ADFF"/>
<rect x="457.84" y="714.15" width="26.62" height="26.77" fill="#93A1FF"/>
<rect x="484.06" y="714.15" width="26.62" height="26.77" fill="#D8DBFF"/>
<rect x="510.28" y="714.15" width="26.62" height="26.77" fill="#ADB6FF"/>
<rect x="536.50" y="714.15" width="26.62" height="26.77" fill="#FF0000"/>
<rect x="562.72" y="714.15" width="26.62" height="26.77" fill="#FF6666"/>
<rect x="588.94" y="714.15" width="26.62" height="26.77" fill="#E8EAFF"/>
<rect x="615.16" y="714.15" width="26.62" height="26.77" fill="#C6CBFF"/>
<rect x="641.38" y="714.15" width="26.62" height="26.77" fill="#BFC6FF"/>
<rect x="667.60" y="714.15" width="26.62" height="26.77" fill="#FAFAFF"/>
<rect x="693.82" y="714.15" width="26.62" height="26.77" fill="#E8EAFF"/>
<rect x="720.04" y="714.15" width="26.62" height="26.77" fill="#B1B9FF"/>
<rect x="746.26" y="714.15" width="26.62" height="26.77" fill="#B1B9FF"/>
<rect x="772.48" y="714.15" width="26.62" height="26.77" fill="#C0C6FF"/>
<rect x="798.70" y="714.15" width="26.62" height="26.77" fill="#C0C6FF"/>
<rect x="824.92" y="714.15" width="26.62" height="26.77" fill="#96A2FF"/>
<rect x="851.14" y="714.15" width="26.62" height="26.77" fill="#E0E2FF"/>
<rect x="877.36" y="714.15" width="26.62" height="26.77" fill="#C3C8FF"/>
<rect x="143.20" y="740.52" width="26.62" height="26.77" fill="#4D70FF"/>
<rect x="169.42" y="740.52" width="26.62" height="26.77" fill="#3D66FF"/>
<rect x="195.64" y="740.52" width="26.62" height="26.77" fill="#8594FF"/>
<rect x="221.86" y="740.52" width="26.62" height="26.77" fill="#4D6FFF"/>
<rect x="248.08" y="740.52" width="26.62" height="26.77" fill="#0050FF"/>
<rect x="274.30" y="740.52" width="26.62" height="26.77" fill="#4A6CFF"/>
<rect x="300.52" y="740.52" width="26.62" height="26.77" fill="#0058FF"/>
<rect x="326.74" y="740.52" width="26.62" height="26.77" fill="#BBC0FF"/>
<rect x="352.96" y="740.52" width="26.62" height="26.77" fill="#BFC4FF"/>
<rect x="379.18" y="740.52" width="26.62" height="26.77" fill="#C3C7FF"/>
<rect x="405.40" y="740.52" width="26.62" height="26.77" fill="#9AA5FF"/>
<rect x="431.62" y="740.52" width="26.62" height="26.77" fill="#A5AFFF"/>
<rect x="457.84" y="740.52" width="26.62" height="26.77" fill="#9EA9FF"/>
<rect x="484.06" y="740.52" width="26.62" height="26.77" fill="#D0D4FF"/>
<rect x="510.28" y="740.52" width="26.62" height="26.77" fill="#B5BBFF"/>
<rect x="536.50" y="740.52" width="26.62" height="26.77" fill="#FF6666"/>
<rect x="562.72" y="740.52" width="26.62" height="26.77" fill="#FF0000"/>
<rect x="588.94" y="740.52" width="26.62" height="26.77" fill="#F5F6FF"/>
<rect x="615.16" y="740.52" width="26.62" height="26.77" fill="#C6CBFF"/>
<rect x="641.38" y="740.52" width="26.62" height="26.77" fill="#C6CBFF"/>
<rect x="667.60" y="740.52" width="26.62" height="26.77" fill="#FAFBFF"/>
<rect x="693.82" y="740.52" width="26.62" height="26.77" fill="#E8ECFF"/>
<rect x="720.04" y="740.52" width="26.62" height="26.77" fill="#B8BEFF"/>
<rect x="746.26" y="740.52" width="26.62" height="26.77" fill="#B8BEFF"/>
<rect x="772.48" y="740.52" width="26.62" height="26.77" fill="#B8BEFF"/>
<rect x="798.70" y="740.52" width="26.62" height="26.77" fill="#B8BEFF"/>
<rect x="824.92" y="740.52" width="26.62" height="26.77" fill="#8C9AFF"/>
<rect x="851.14" y="740.52" width="26.62" height="26.77" fill="#E0E2FF"/>
<rect x="877.36" y="740.52" width="26.62" height="26.77" fill="#B0B8FF"/>
<rect x="143.20" y="766.89" width="26.62" height="26.77" fill="#8090FF"/>
<rect x="169.42" y="766.89" width="26.62" height="26.77" fill="#7085FF"/>
<rect x="195.64" y="766.89" width="26.62" height="26.77" fill="#A3ADFF"/>
<rect x="221.86" y="766.89" width="26.62" height="26.77" fill="#4D6FFF"/>
<rect x="248.08" y="766.89" width="26.62" height="26.77" fill="#3366FF"/>
<rect x="274.30" y="766.89" width="26.62" height="26.77" fill="#2E64FF"/>
<rect x="300.52" y="766.89" width="26.62" height="26.77" fill="#0055FF"/>
<rect x="326.74" y="766.89" width="26.62" height="26.77" fill="#F0F0FF"/>
<rect x="352.96" y="766.89" width="26.62" height="26.77" fill="#EBEDFF"/>
<rect x="379.18" y="766.89" width="26.62" height="26.77" fill="#EDEEFF"/>
<rect x="405.40" y="766.89" width="26.62" height="26.77" fill="#D3D5FF"/>
<rect x="431.62" y="766.89" width="26.62" height="26.77" fill="#DCDEFF"/>
<rect x="457.84" y="766.89" width="26.62" height="26.77" fill="#E2E4FF"/>
<rect x="484.06" y="766.89" width="26.62" height="26.77" fill="#F3F3FF"/>
<rect x="510.28" y="766.89" width="26.62" height="26.77" fill="#D8DAFF"/>
<rect x="536.50" y="766.89" width="26.62" height="26.77" fill="#E8EAFF"/>
<rect x="562.72" y="766.89" width="26.62" height="26.77" fill="#F5F6FF"/>
<rect x="588.94" y="766.89" width="26.62" height="26.77" fill="#FF0000"/>
<rect x="615.16" y="766.89" width="26.62" height="26.77" fill="#FFF0EF"/>
<rect x="641.38" y="766.89" width="26.62" height="26.77" fill="#FFFFFF"/>
<rect x="667.60" y="766.89" width="26.62" height="26.77" fill="#FFEBE8"/>
<rect x="693.82" y="766.89" width="26.62" height="26.77" fill="#FFF5F3"/>
<rect x="720.04" y="766.89" width="26.62" height="26.77" fill="#CBD0FF"/>
<rect x="746.26" y="766.89" width="26.62" height="26.77" fill="#DFE1FF"/>
<rect x="772.48" y="766.89" width="26.62" height="26.77" fill="#FFF8F7"/>
<rect x="798.70" y="766.89" width="26.62" height="26.77" fill="#F5F6FF"/>
<rect x="824.92" y="766.89" width="26.62" height="26.77" fill="#B5BBFF"/>
<rect x="851.14" y="766.89" width="26.62" height="26.77" fill="#C3C8FF"/>
<rect x="877.36" y="766.89" width="26.62" height="26.77" fill="#E0E2FF"/>
<rect x="143.20" y="793.26" width="26.62" height="26.77" fill="#2E64FF"/>
<rect x="169.42" y="793.26" width="26.62" height="26.77" fill="#3064FF"/>
<rect x="195.64" y="793.26" width="26.62" height="26.77" fill="#5272FF"/>
<rect x="221.86" y="793.26" width="26.62" height="26.77" fill="#0A58FF"/>
<rect x="248.08" y="793.26" width="26.62" height="26.77" fill="#0044FF"/>
<rect x="274.30" y="793.26" width="26.62" height="26.77" fill="#0058FF"/>
<rect x="300.52" y="793.26" width="26.62" height="26.77" fill="#0050FF"/>
<rect x="326.74" y="793.26" width="26.62" height="26.77" fill="#EAECFF"/>
<rect x="352.96" y="793.26" width="26.62" height="26.77" fill="#D5D8FF"/>
<rect x="379.18" y="793.26" width="26.62" height="26.77" fill="#D8DBFF"/>
<rect x="405.40" y="793.26" width="26.62" height="26.77" fill="#ABB4FF"/>
<rect x="431.62" y="793.26" width="26.62" height="26.77" fill="#D3D6FF"/>
<rect x="457.84" y="793.26" width="26.62" height="26.77" fill="#8899FF"/>
<rect x="484.06" y="793.26" width="26.62" height="26.77" fill="#DCDEFF"/>
<rect x="510.28" y="793.26" width="26.62" height="26.77" fill="#ADB6FF"/>
<rect x="536.50" y="793.26" width="26.62" height="26.77" fill="#C6CBFF"/>
<rect x="562.72" y="793.26" width="26.62" height="26.77" fill="#C6CBFF"/>
<rect x="588.94" y="793.26" width="26.62" height="26.77" fill="#FFF0EF"/>
<rect x="615.16" y="793.26" width="26.62" height="26.77" fill="#FF0000"/>
<rect x="641.38" y="793.26" width="26.62" height="26.77" fill="#FFA8A8"/>
<rect x="667.60" y="793.26" width="26.62" height="26.77" fill="#EEF1FF"/>
<rect x="693.82" y="793.26" width="26.62" height="26.77" fill="#FAFAFF"/>
<rect x="720.04" y="793.26" width="26.62" height="26.77" fill="#DEE0FF"/>
<rect x="746.26" y="793.26" width="26.62" height="26.77" fill="#FFFAF8"/>
<rect x="772.48" y="793.26" width="26.62" height="26.77" fill="#DEE0FF"/>
<rect x="798.70" y="793.26" width="26.62" height="26.77" fill="#FDFDFF"/>
<rect x="824.92" y="793.26" width="26.62" height="26.77" fill="#BEC4FF"/>
<rect x="851.14" y="793.26" width="26.62" height="26.77" fill="#C3C8FF"/>
<rect x="877.36" y="793.26" width="26.62" height="26.77" fill="#E8EAFF"/>
<rect x="143.20" y="819.63" width="26.62" height="26.77" fill="#6680FF"/>
<rect x="169.42" y="819.63" width="26.62" height="26.77" fill="#6680FF"/>
<rect x="195.64" y="819.63" width="26.62" height="26.77" fill="#5E7AFF"/>
<rect x="221.86" y="819.63" width="26.62" height="26.77" fill="#5E7AFF"/>
<rect x="248.08" y="819.63" width="26.62" height="26.77" fill="#3366FF"/>
<rect x="274.30" y="819.63" width="26.62" height="26.77" fill="#5272FF"/>
<rect x="300.52" y="819.63" width="26.62" height="26.77" fill="#4468FF"/>
<rect x="326.74" y="819.63" width="26.62" height="26.77" fill="#D8DBFF"/>
<rect x="352.96" y="819.63" width="26.62" height="26.77" fill="#CED3FF"/>
<rect x="379.18" y="819.63" width="26.62" height="26.77" fill="#D3D6FF"/>
<rect x="405.40" y="819.63" width="26.62" height="26.77" fill="#CDD2FF"/>
<rect x="431.62" y="819.63" width="26.62" height="26.77" fill="#F3F4FF"/>
<rect x="457.84" y="819.63" width="26.62" height="26.77" fill="#ADB6FF"/>
<rect x="484.06" y="819.63" width="26.62" height="26.77" fill="#EDEEFF"/>
<rect x="510.28" y="819.63" width="26.62" height="26.77" fill="#C3C8FF"/>
<rect x="536.50" y="819.63" width="26.62" height="26.77" fill="#BFC6FF"/>
<rect x="562.72" y="819.63" width="26.62" height="26.77" fill="#C6CBFF"/>
<rect x="588.94" y="819.63" width="26.62" height="26.77" fill="#FFFFFF"/>
<rect x="615.16" y="819.63" width="26.62" height="26.77" fill="#FFA8A8"/>
<rect x="641.38" y="819.63" width="26.62" height="26.77" fill="#FF0000"/>
<rect x="667.60" y="819.63" width="26.62" height="26.77" fill="#FFFFFF"/>
<rect x="693.82" y="819.63" width="26.62" height="26.77" fill="#F8F9FF"/>
<rect x="720.04" y="819.63" width="26.62" height="26.77" fill="#EAECFF"/>
<rect x="746.26" y="819.63" width="26.62" height="26.77" fill="#F3F5FF"/>
<rect x="772.48" y="819.63" width="26.62" height="26.77" fill="#F5F6FF"/>
<rect x="798.70" y="819.63" width="26.62" height="26.77" fill="#FEFEFD"/>
<rect x="824.92" y="819.63" width="26.62" height="26.77" fill="#BEC4FF"/>
<rect x="851.14" y="819.63" width="26.62" height="26.77" fill="#E0E2FF"/>
<rect x="877.36" y="819.63" width="26.62" height="26.77" fill="#E5E7FF"/>
<rect x="143.20" y="846.00" width="26.62" height="26.77" fill="#5271FF"/>
<rect x="169.42" y="846.00" width="26.62" height="26.77" fill="#295FFF"/>
<rect x="195.64" y="846.00" width="26.62" height="26.77" fill="#5271FF"/>
<rect x="221.86" y="846.00" width="26.62" height="26.77" fill="#1A5CFF"/>
<rect x="248.08" y="846.00" width="26.62" height="26.77" fill="#0040FF"/>
<rect x="274.30" y="846.00" width="26.62" height="26.77" fill="#0050FF"/>
<rect x="300.52" y="846.00" width="26.62" height="26.77" fill="#0050FF"/>
<rect x="326.74" y="846.00" width="26.62" height="26.77" fill="#E5E7FF"/>
<rect x="352.96" y="846.00" width="26.62" height="26.77" fill="#D8DBFF"/>
<rect x="379.18" y="846.00" width="26.62" height="26.77" fill="#DCDEFF"/>
<rect x="405.40" y="846.00" width="26.62" height="26.77" fill="#BDC3FF"/>
<rect x="431.62" y="846.00" width="26.62" height="26.77" fill="#C3C8FF"/>
<rect x="457.84" y="846.00" width="26.62" height="26.77" fill="#B5BDFF"/>
<rect x="484.06" y="846.00" width="26.62" height="26.77" fill="#FFF5F3"/>
<rect x="510.28" y="846.00" width="26.62" height="26.77" fill="#D0D4FF"/>
<rect x="536.50" y="846.00" width="26.62" height="26.77" fill="#FAFAFF"/>
<rect x="562.72" y="846.00" width="26.62" height="26.77" fill="#FAFBFF"/>
<rect x="588.94" y="846.00" width="26.62" height="26.77" fill="#FFEBE8"/>
<rect x="615.16" y="846.00" width="26.62" height="26.77" fill="#EEF1FF"/>
<rect x="641.38" y="846.00" width="26.62" height="26.77" fill="#FFFFFF"/>
<rect x="667.60" y="846.00" width="26.62" height="26.77" fill="#FF0000"/>
<rect x="693.82" y="846.00" width="26.62" height="26.77" fill="#FF7070"/>
<rect x="720.04" y="846.00" width="26.62" height="26.77" fill="#F3F3FF"/>
<rect x="746.26" y="846.00" width="26.62" height="26.77" fill="#FFF3F1"/>
<rect x="772.48" y="846.00" width="26.62" height="26.77" fill="#FFECEA"/>
<rect x="798.70" y="846.00" width="26.62" height="26.77" fill="#FFE8E6"/>
<rect x="824.92" y="846.00" width="26.62" height="26.77" fill="#A8B2FF"/>
<rect x="851.14" y="846.00" width="26.62" height="26.77" fill="#F3F3FF"/>
<rect x="877.36" y="846.00" width="26.62" height="26.77" fill="#EDEEFF"/>
<rect x="143.20" y="872.37" width="26.62" height="26.77" fill="#5271FF"/>
<rect x="169.42" y="872.37" width="26.62" height="26.77" fill="#3366FF"/>
<rect x="195.64" y="872.37" width="26.62" height="26.77" fill="#5E7AFF"/>
<rect x="221.86" y="872.37" width="26.62" height="26.77" fill="#1258FF"/>
<rect x="248.08" y="872.37" width="26.62" height="26.77" fill="#0040FF"/>
<rect x="274.30" y="872.37" width="26.62" height="26.77" fill="#0A54FF"/>
<rect x="300.52" y="872.37" width="26.62" height="26.77" fill="#1258FF"/>
<rect x="326.74" y="872.37" width="26.62" height="26.77" fill="#E2E4FF"/>
<rect x="352.96" y="872.37" width="26.62" height="26.77" fill="#CBD0FF"/>
<rect x="379.18" y="872.37" width="26.62" height="26.77" fill="#D3D5FF"/>
<rect x="405.40" y="872.37" width="26.62" height="26.77" fill="#A5B0FF"/>
<rect x="431.62" y="872.37" width="26.62" height="26.77" fill="#C3C8FF"/>
<rect x="457.84" y="872.37" width="26.62" height="26.77" fill="#9AA8FF"/>
<rect x="484.06" y="872.37" width="26.62" height="26.77" fill="#F3F4FF"/>
<rect x="510.28" y="872.37" width="26.62" height="26.77" fill="#B1B9FF"/>
<rect x="536.50" y="872.37" width="26.62" height="26.77" fill="#E8EAFF"/>
<rect x="562.72" y="872.37" width="26.62" height="26.77" fill="#E8ECFF"/>
<rect x="588.94" y="872.37" width="26.62" height="26.77" fill="#FFF5F3"/>
<rect x="615.16" y="872.37" width="26.62" height="26.77" fill="#FAFAFF"/>
<rect x="641.38" y="872.37" width="26.62" height="26.77" fill="#F8F9FF"/>
<rect x="667.60" y="872.37" width="26.62" height="26.77" fill="#FF7070"/>
<rect x="693.82" y="872.37" width="26.62" height="26.77" fill="#FF0000"/>
<rect x="720.04" y="872.37" width="26.62" height="26.77" fill="#E8EAFF"/>
<rect x="746.26" y="872.37" width="26.62" height="26.77" fill="#FFF3F1"/>
<rect x="772.48" y="872.37" width="26.62" height="26.77" fill="#FFF9F8"/>
<rect x="798.70" y="872.37" width="26.62" height="26.77" fill="#FFE8E6"/>
<rect x="824.92" y="872.37" width="26.62" height="26.77" fill="#A8B2FF"/>
<rect x="851.14" y="872.37" width="26.62" height="26.77" fill="#D8DAFF"/>
<rect x="877.36" y="872.37" width="26.62" height="26.77" fill="#EDEEFF"/>
<rect x="143.20" y="898.74" width="26.62" height="26.77" fill="#2962FF"/>
<rect x="169.42" y="898.74" width="26.62" height="26.77" fill="#1258FF"/>
<rect x="195.64" y="898.74" width="26.62" height="26.77" fill="#295FFF"/>
<rect x="221.86" y="898.74" width="26.62" height="26.77" fill="#0055FF"/>
<rect x="248.08" y="898.74" width="26.62" height="26.77" fill="#0044FF"/>
<rect x="274.30" y="898.74" width="26.62" height="26.77" fill="#0050FF"/>
<rect x="300.52" y="898.74" width="26.62" height="26.77" fill="#0048FF"/>
<rect x="326.74" y="898.74" width="26.62" height="26.77" fill="#E8EAFF"/>
<rect x="352.96" y="898.74" width="26.62" height="26.77" fill="#DEE0FF"/>
<rect x="379.18" y="898.74" width="26.62" height="26.77" fill="#E0E2FF"/>
<rect x="405.40" y="898.74" width="26.62" height="26.77" fill="#BBC2FF"/>
<rect x="431.62" y="898.74" width="26.62" height="26.77" fill="#D5D8FF"/>
<rect x="457.84" y="898.74" width="26.62" height="26.77" fill="#A5B0FF"/>
<rect x="484.06" y="898.74" width="26.62" height="26.77" fill="#F7F8FF"/>
<rect x="510.28" y="898.74" width="26.62" height="26.77" fill="#C8CCFF"/>
<rect x="536.50" y="898.74" width="26.62" height="26.77" fill="#B1B9FF"/>
<rect x="562.72" y="898.74" width="26.62" height="26.77" fill="#B8BEFF"/>
<rect x="588.94" y="898.74" width="26.62" height="26.77" fill="#CBD0FF"/>
<rect x="615.16" y="898.74" width="26.62" height="26.77" fill="#DEE0FF"/>
<rect x="641.38" y="898.74" width="26.62" height="26.77" fill="#EAECFF"/>
<rect x="667.60" y="898.74" width="26.62" height="26.77" fill="#F3F3FF"/>
<rect x="693.82" y="898.74" width="26.62" height="26.77" fill="#E8EAFF"/>
<rect x="720.04" y="898.74" width="26.62" height="26.77" fill="#FF0000"/>
<rect x="746.26" y="898.74" width="26.62" height="26.77" fill="#E8EAFF"/>
<rect x="772.48" y="898.74" width="26.62" height="26.77" fill="#E0E2FF"/>
<rect x="798.70" y="898.74" width="26.62" height="26.77" fill="#EEF0FF"/>
<rect x="824.92" y="898.74" width="26.62" height="26.77" fill="#8E9EFF"/>
<rect x="851.14" y="898.74" width="26.62" height="26.77" fill="#CED3FF"/>
<rect x="877.36" y="898.74" width="26.62" height="26.77" fill="#D5D8FF"/>
<rect x="143.20" y="925.11" width="26.62" height="26.77" fill="#3E68FF"/>
<rect x="169.42" y="925.11" width="26.62" height="26.77" fill="#3366FF"/>
<rect x="195.64" y="925.11" width="26.62" height="26.77" fill="#4D6FFF"/>
<rect x="221.86" y="925.11" width="26.62" height="26.77" fill="#3E68FF"/>
<rect x="248.08" y="925.11" width="26.62" height="26.77" fill="#0044FF"/>
<rect x="274.30" y="925.11" width="26.62" height="26.77" fill="#0058FF"/>
<rect x="300.52" y="925.11" width="26.62" height="26.77" fill="#3366FF"/>
<rect x="326.74" y="925.11" width="26.62" height="26.77" fill="#EAECFF"/>
<rect x="352.96" y="925.11" width="26.62" height="26.77" fill="#D5D8FF"/>
<rect x="379.18" y="925.11" width="26.62" height="26.77" fill="#D5D8FF"/>
<rect x="405.40" y="925.11" width="26.62" height="26.77" fill="#A8B1FF"/>
<rect x="431.62" y="925.11" width="26.62" height="26.77" fill="#B5BBFF"/>
<rect x="457.84" y="925.11" width="26.62" height="26.77" fill="#9AA5FF"/>
<rect x="484.06" y="925.11" width="26.62" height="26.77" fill="#D5D8FF"/>
<rect x="510.28" y="925.11" width="26.62" height="26.77" fill="#A8B1FF"/>
<rect x="536.50" y="925.11" width="26.62" height="26.77" fill="#B1B9FF"/>
<rect x="562.72" y="925.11" width="26.62" height="26.77" fill="#B8BEFF"/>
<rect x="588.94" y="925.11" width="26.62" height="26.77" fill="#DFE1FF"/>
<rect x="615.16" y="925.11" width="26.62" height="26.77" fill="#FFFAF8"/>
<rect x="641.38" y="925.11" width="26.62" height="26.77" fill="#F3F5FF"/>
<rect x="667.60" y="925.11" width="26.62" height="26.77" fill="#FFF3F1"/>
<rect x="693.82" y="925.11" width="26.62" height="26.77" fill="#FFF3F1"/>
<rect x="720.04" y="925.11" width="26.62" height="26.77" fill="#E8EAFF"/>
<rect x="746.26" y="925.11" width="26.62" height="26.77" fill="#FF0000"/>
<rect x="772.48" y="925.11" width="26.62" height="26.77" fill="#F5F6FF"/>
<rect x="798.70" y="925.11" width="26.62" height="26.77" fill="#FFECEA"/>
<rect x="824.92" y="925.11" width="26.62" height="26.77" fill="#96A3FF"/>
<rect x="851.14" y="925.11" width="26.62" height="26.77" fill="#CED3FF"/>
<rect x="877.36" y="925.11" width="26.62" height="26.77" fill="#E8EAFF"/>
<rect x="143.20" y="951.48" width="26.62" height="26.77" fill="#6C82FF"/>
<rect x="169.42" y="951.48" width="26.62" height="26.77" fill="#5272FF"/>
<rect x="195.64" y="951.48" width="26.62" height="26.77" fill="#6680FF"/>
<rect x="221.86" y="951.48" width="26.62" height="26.77" fill="#5272FF"/>
<rect x="248.08" y="951.48" width="26.62" height="26.77" fill="#0050FF"/>
<rect x="274.30" y="951.48" width="26.62" height="26.77" fill="#0058FF"/>
<rect x="300.52" y="951.48" width="26.62" height="26.77" fill="#2E64FF"/>
<rect x="326.74" y="951.48" width="26.62" height="26.77" fill="#E8EAFF"/>
<rect x="352.96" y="951.48" width="26.62" height="26.77" fill="#DCDEFF"/>
<rect x="379.18" y="951.48" width="26.62" height="26.77" fill="#DCDEFF"/>
<rect x="405.40" y="951.48" width="26.62" height="26.77" fill="#D0D3FF"/>
<rect x="431.62" y="951.48" width="26.62" height="26.77" fill="#EDEEFF"/>
<rect x="457.84" y="951.48" width="26.62" height="26.77" fill="#C8CCFF"/>
<rect x="484.06" y="951.48" width="26.62" height="26.77" fill="#FFF2F0"/>
<rect x="510.28" y="951.48" width="26.62" height="26.77" fill="#D8DAFF"/>
<rect x="536.50" y="951.48" width="26.62" height="26.77" fill="#C0C6FF"/>
<rect x="562.72" y="951.48" width="26.62" height="26.77" fill="#B8BEFF"/>
<rect x="588.94" y="951.48" width="26.62" height="26.77" fill="#FFF8F7"/>
<rect x="615.16" y="951.48" width="26.62" height="26.77" fill="#DEE0FF"/>
<rect x="641.38" y="951.48" width="26.62" height="26.77" fill="#F5F6FF"/>
<rect x="667.60" y="951.48" width="26.62" height="26.77" fill="#FFECEA"/>
<rect x="693.82" y="951.48" width="26.62" height="26.77" fill="#FFF9F8"/>
<rect x="720.04" y="951.48" width="26.62" height="26.77" fill="#E0E2FF"/>
<rect x="746.26" y="951.48" width="26.62" height="26.77" fill="#F5F6FF"/>
<rect x="772.48" y="951.48" width="26.62" height="26.77" fill="#FF0000"/>
<rect x="798.70" y="951.48" width="26.62" height="26.77" fill="#FFCCCC"/>
<rect x="824.92" y="951.48" width="26.62" height="26.77" fill="#B1B9FF"/>
<rect x="851.14" y="951.48" width="26.62" height="26.77" fill="#E0E2FF"/>
<rect x="877.36" y="951.48" width="26.62" height="26.77" fill="#F5F6FF"/>
<rect x="143.20" y="977.85" width="26.62" height="26.77" fill="#2E64FF"/>
<rect x="169.42" y="977.85" width="26.62" height="26.77" fill="#0055FF"/>
<rect x="195.64" y="977.85" width="26.62" height="26.77" fill="#1E5CFF"/>
<rect x="221.86" y="977.85" width="26.62" height="26.77" fill="#3366FF"/>
<rect x="248.08" y="977.85" width="26.62" height="26.77" fill="#003CFF"/>
<rect x="274.30" y="977.85" width="26.62" height="26.77" fill="#0055FF"/>
<rect x="300.52" y="977.85" width="26.62" height="26.77" fill="#295FFF"/>
<rect x="326.74" y="977.85" width="26.62" height="26.77" fill="#C8CCFF"/>
<rect x="352.96" y="977.85" width="26.62" height="26.77" fill="#ABB4FF"/>
<rect x="379.18" y="977.85" width="26.62" height="26.77" fill="#AFB8FF"/>
<rect x="405.40" y="977.85" width="26.62" height="26.77" fill="#A0ABFF"/>
<rect x="431.62" y="977.85" width="26.62" height="26.77" fill="#B1B9FF"/>
<rect x="457.84" y="977.85" width="26.62" height="26.77" fill="#8E9EFF"/>
<rect x="484.06" y="977.85" width="26.62" height="26.77" fill="#E0E2FF"/>
<rect x="510.28" y="977.85" width="26.62" height="26.77" fill="#A3ADFF"/>
<rect x="536.50" y="977.85" width="26.62" height="26.77" fill="#C0C6FF"/>
<rect x="562.72" y="977.85" width="26.62" height="26.77" fill="#B8BEFF"/>
<rect x="588.94" y="977.85" width="26.62" height="26.77" fill="#F5F6FF"/>
<rect x="615.16" y="977.85" width="26.62" height="26.77" fill="#FDFDFF"/>
<rect x="641.38" y="977.85" width="26.62" height="26.77" fill="#FEFEFD"/>
<rect x="667.60" y="977.85" width="26.62" height="26.77" fill="#FFE8E6"/>
<rect x="693.82" y="977.85" width="26.62" height="26.77" fill="#FFE8E6"/>
<rect x="720.04" y="977.85" width="26.62" height="26.77" fill="#EEF0FF"/>
<rect x="746.26" y="977.85" width="26.62" height="26.77" fill="#FFECEA"/>
<rect x="772.48" y="977.85" width="26.62" height="26.77" fill="#FFCCCC"/>
<rect x="798.70" y="977.85" width="26.62" height="26.77" fill="#FF0000"/>
<rect x="824.92" y="977.85" width="26.62" height="26.77" fill="#A8B2FF"/>
<rect x="851.14" y="977.85" width="26.62" height="26.77" fill="#E0E2FF"/>
<rect x="877.36" y="977.85" width="26.62" height="26.77" fill="#F5F6FF"/>
<rect x="143.20" y="1004.22" width="26.62" height="26.77" fill="#7489FF"/>
<rect x="169.42" y="1004.22" width="26.62" height="26.77" fill="#7087FF"/>
<rect x="195.64" y="1004.22" width="26.62" height="26.77" fill="#8594FF"/>
<rect x="221.86" y="1004.22" width="26.62" height="26.77" fill="#7E90FF"/>
<rect x="248.08" y="1004.22" width="26.62" height="26.77" fill="#5E7AFF"/>
<rect x="274.30" y="1004.22" width="26.62" height="26.77" fill="#6680FF"/>
<rect x="300.52" y="1004.22" width="26.62" height="26.77" fill="#5271FF"/>
<rect x="326.74" y="1004.22" width="26.62" height="26.77" fill="#A3ADFF"/>
<rect x="352.96" y="1004.22" width="26.62" height="26.77" fill="#8594FF"/>
<rect x="379.18" y="1004.22" width="26.62" height="26.77" fill="#8C9AFF"/>
<rect x="405.40" y="1004.22" width="26.62" height="26.77" fill="#BFC5FF"/>
<rect x="431.62" y="1004.22" width="26.62" height="26.77" fill="#BCC2FF"/>
<rect x="457.84" y="1004.22" width="26.62" height="26.77" fill="#8696FF"/>
<rect x="484.06" y="1004.22" width="26.62" height="26.77" fill="#A5AFFF"/>
<rect x="510.28" y="1004.22" width="26.62" height="26.77" fill="#7389FF"/>
<rect x="536.50" y="1004.22" width="26.62" height="26.77" fill="#96A2FF"/>
<rect x="562.72" y="1004.22" width="26.62" height="26.77" fill="#8C9AFF"/>
<rect x="588.94" y="1004.22" width="26.62" height="26.77" fill="#B5BBFF"/>
<rect x="615.16" y="1004.22" width="26.62" height="26.77" fill="#BEC4FF"/>
<rect x="641.38" y="1004.22" width="26.62" height="26.77" fill="#BEC4FF"/>
<rect x="667.60" y="1004.22" width="26.62" height="26.77" fill="#A8B2FF"/>
<rect x="693.82" y="1004.22" width="26.62" height="26.77" fill="#A8B2FF"/>
<rect x="720.04" y="1004.22" width="26.62" height="26.77" fill="#8E9EFF"/>
<rect x="746.26" y="1004.22" width="26.62" height="26.77" fill="#96A3FF"/>
<rect x="772.48" y="1004.22" width="26.62" height="26.77" fill="#B1B9FF"/>
<rect x="798.70" y="1004.22" width="26.62" height="26.77" fill="#A8B2FF"/>
<rect x="824.92" y="1004.22" width="26.62" height="26.77" fill="#FF0000"/>
<rect x="851.14" y="1004.22" width="26.62" height="26.77" fill="#BEC4FF"/>
<rect x="877.36" y="1004.22" width="26.62" height="26.77" fill="#D5D8FF"/>
<rect x="143.20" y="1030.59" width="26.62" height="26.77" fill="#4D6FFF"/>
<rect x="169.42" y="1030.59" width="26.62" height="26.77" fill="#3366FF"/>
<rect x="195.64" y="1030.59" width="26.62" height="26.77" fill="#2962FF"/>
<rect x="221.86" y="1030.59" width="26.62" height="26.77" fill="#2E64FF"/>
<rect x="248.08" y="1030.59" width="26.62" height="26.77" fill="#0050FF"/>
<rect x="274.30" y="1030.59" width="26.62" height="26.77" fill="#0058FF"/>
<rect x="300.52" y="1030.59" width="26.62" height="26.77" fill="#0050FF"/>
<rect x="326.74" y="1030.59" width="26.62" height="26.77" fill="#A3ADFF"/>
<rect x="352.96" y="1030.59" width="26.62" height="26.77" fill="#93A0FF"/>
<rect x="379.18" y="1030.59" width="26.62" height="26.77" fill="#9AA5FF"/>
<rect x="405.40" y="1030.59" width="26.62" height="26.77" fill="#A0ABFF"/>
<rect x="431.62" y="1030.59" width="26.62" height="26.77" fill="#B5BBFF"/>
<rect x="457.84" y="1030.59" width="26.62" height="26.77" fill="#8696FF"/>
<rect x="484.06" y="1030.59" width="26.62" height="26.77" fill="#D0D3FF"/>
<rect x="510.28" y="1030.59" width="26.62" height="26.77" fill="#9AA5FF"/>
<rect x="536.50" y="1030.59" width="26.62" height="26.77" fill="#E0E2FF"/>
<rect x="562.72" y="1030.59" width="26.62" height="26.77" fill="#E0E2FF"/>
<rect x="588.94" y="1030.59" width="26.62" height="26.77" fill="#C3C8FF"/>
<rect x="615.16" y="1030.59" width="26.62" height="26.77" fill="#C3C8FF"/>
<rect x="641.38" y="1030.59" width="26.62" height="26.77" fill="#E0E2FF"/>
<rect x="667.60" y="1030.59" width="26.62" height="26.77" fill="#F3F3FF"/>
<rect x="693.82" y="1030.59" width="26.62" height="26.77" fill="#D8DAFF"/>
<rect x="720.04" y="1030.59" width="26.62" height="26.77" fill="#CED3FF"/>
<rect x="746.26" y="1030.59" width="26.62" height="26.77" fill="#CED3FF"/>
<rect x="772.48" y="1030.59" width="26.62" height="26.77" fill="#E0E2FF"/>
<rect x="798.70" y="1030.59" width="26.62" height="26.77" fill="#E0E2FF"/>
<rect x="824.92" y="1030.59" width="26.62" height="26.77" fill="#BEC4FF"/>
<rect x="851.14" y="1030.59" width="26.62" height="26.77" fill="#FF0000"/>
<rect x="877.36" y="1030.59" width="26.62" height="26.77" fill="#EDEEFF"/>
<rect x="143.20" y="1056.96" width="26.62" height="26.77" fill="#0050FF"/>
<rect x="169.42" y="1056.96" width="26.62" height="26.77" fill="#004CFF"/>
<rect x="195.64" y="1056.96" width="26.62" height="26.77" fill="#2962FF"/>
<rect x="221.86" y="1056.96" width="26.62" height="26.77" fill="#2962FF"/>
<rect x="248.08" y="1056.96" width="26.62" height="26.77" fill="#003CFF"/>
<rect x="274.30" y="1056.96" width="26.62" height="26.77" fill="#0050FF"/>
<rect x="300.52" y="1056.96" width="26.62" height="26.77" fill="#0048FF"/>
<rect x="326.74" y="1056.96" width="26.62" height="26.77" fill="#C3C8FF"/>
<rect x="352.96" y="1056.96" width="26.62" height="26.77" fill="#ABB4FF"/>
<rect x="379.18" y="1056.96" width="26.62" height="26.77" fill="#B0B8FF"/>
<rect x="405.40" y="1056.96" width="26.62" height="26.77" fill="#AFB8FF"/>
<rect x="431.62" y="1056.96" width="26.62" height="26.77" fill="#E5E7FF"/>
<rect x="457.84" y="1056.96" width="26.62" height="26.77" fill="#8696FF"/>
<rect x="484.06" y="1056.96" width="26.62" height="26.77" fill="#E8EAFF"/>
<rect x="510.28" y="1056.96" width="26.62" height="26.77" fill="#A8B1FF"/>
<rect x="536.50" y="1056.96" width="26.62" height="26.77" fill="#C3C8FF"/>
<rect x="562.72" y="1056.96" width="26.62" height="26.77" fill="#B0B8FF"/>
<rect x="588.94" y="1056.96" width="26.62" height="26.77" fill="#E0E2FF"/>
<rect x="615.16" y="1056.96" width="26.62" height="26.77" fill="#E8EAFF"/>
<rect x="641.38" y="1056.96" width="26.62" height="26.77" fill="#E5E7FF"/>
<rect x="667.60" y="1056.96" width="26.62" height="26.77" fill="#EDEEFF"/>
<rect x="693.82" y="1056.96" width="26.62" height="26.77" fill="#EDEEFF"/>
<rect x="720.04" y="1056.96" width="26.62" height="26.77" fill="#D5D8FF"/>
<rect x="746.26" y="1056.96" width="26.62" height="26.77" fill="#E8EAFF"/>
<rect x="772.48" y="1056.96" width="26.62" height="26.77" fill="#F5F6FF"/>
<rect x="798.70" y="1056.96" width="26.62" height="26.77" fill="#F5F6FF"/>
<rect x="824.92" y="1056.96" width="26.62" height="26.77" fill="#D5D8FF"/>
<rect x="851.14" y="1056.96" width="26.62" height="26.77" fill="#EDEEFF"/>
<rect x="877.36" y="1056.96" width="26.62" height="26.77" fill="#FF0000"/>
</g>
<text transform="translate(921.5,337.8) scale(1,1.05)" stroke="#000" stroke-width="0.35">LuCaP 49</text>
<text transform="translate(921.5,364.2) scale(1,1.05)" stroke="#000" stroke-width="0.35">LuCaP 145.1</text>
<text transform="translate(921.5,390.5) scale(1,1.05)" stroke="#000" stroke-width="0.35">LuCaP 145.2</text>
<text transform="translate(921.5,416.9) scale(1,1.05)" stroke="#000" stroke-width="0.35">LuCaP 173.2</text>
<text transform="translate(921.5,443.3) scale(1,1.05)" stroke="#000" stroke-width="0.35">LuCaP 93</text>
<text transform="translate(921.5,469.6) scale(1,1.05)" stroke="#000" stroke-width="0.35">LuCaP 173.1</text>
<text transform="translate(921.5,496.0) scale(1,1.05)" stroke="#000" stroke-width="0.35">LuCaP 208.1</text>
<text transform="translate(921.5,522.4) scale(1,1.05)" stroke="#000" stroke-width="0.35">LuCaP 167</text>
<text transform="translate(921.5,548.8) scale(1,1.05)" stroke="#000" stroke-width="0.35">LuCaP 167CR (<tspan font-weight="bold">FOXA1 S250-ins</tspan>)</text>
<text transform="translate(921.5,575.1) scale(1,1.05)" stroke="#000" stroke-width="0.35">LuCaP 189.4</text>
<text transform="translate(921.5,601.5) scale(1,1.05)" stroke="#000" stroke-width="0.35">LuCaP 136 (<tspan font-weight="bold">FOXA1 A353-del</tspan>)</text>
<text transform="translate(921.5,627.9) scale(1,1.05)" stroke="#000" stroke-width="0.35">LuCaP 136CR (<tspan font-weight="bold">FOXA1 A353-del</tspan>)</text>
<text transform="translate(921.5,654.2) scale(1,1.05)" stroke="#000" stroke-width="0.35">LuCaP 86.2</text>
<text transform="translate(921.5,680.6) scale(1,1.05)" stroke="#000" stroke-width="0.35">LuCaP 78</text>
<text transform="translate(921.5,707.0) scale(1,1.05)" stroke="#000" stroke-width="0.35">LuCaP 78CR</text>
<text transform="translate(921.5,733.4) scale(1,1.05)" stroke="#000" stroke-width="0.35">LuCaP 81 (<tspan font-weight="bold">FOXA1 R264-ins</tspan>)</text>
<text transform="translate(921.5,759.7) scale(1,1.05)" stroke="#000" stroke-width="0.35">LuCaP 81CR (<tspan font-weight="bold">FOXA1 R264-ins</tspan>)</text>
<text transform="translate(921.5,786.1) scale(1,1.05)" stroke="#000" stroke-width="0.35">LuCaP 141 (<tspan font-weight="bold">FOXA1 262-del</tspan>)</text>
<text transform="translate(921.5,812.5) scale(1,1.05)" stroke="#000" stroke-width="0.35">LuCaP 70</text>
<text transform="translate(921.5,838.8) scale(1,1.05)" stroke="#000" stroke-width="0.35">LuCaP 70CR</text>
<text transform="translate(921.5,865.2) scale(1,1.05)" stroke="#000" stroke-width="0.35">LuCaP 77</text>
<text transform="translate(921.5,891.6) scale(1,1.05)" stroke="#000" stroke-width="0.35">LuCaP 77CR</text>
<text transform="translate(921.5,917.9) scale(1,1.05)" stroke="#000" stroke-width="0.35">LuCaP 189.3</text>
<text transform="translate(921.5,944.3) scale(1,1.05)" stroke="#000" stroke-width="0.35">LuCaP 92</text>
<text transform="translate(921.5,970.7) scale(1,1.05)" stroke="#000" stroke-width="0.35">LuCaP 170.2</text>
<text transform="translate(921.5,997.0) scale(1,1.05)" stroke="#000" stroke-width="0.35">LuCaP 170.3</text>
<text transform="translate(921.5,1023.4) scale(1,1.05)" stroke="#000" stroke-width="0.35">LuCaP 176</text>
<text transform="translate(921.5,1049.8) scale(1,1.05)" stroke="#000" stroke-width="0.35">LuCaP 35</text>
<text transform="translate(921.5,1076.2) scale(1,1.05)" stroke="#000" stroke-width="0.35">LuCaP 58</text>
<text transform="translate(745.8,25.2) scale(1,1.05)" stroke="#000" stroke-width="0.35">Histology</text>
<text transform="translate(909.6,25.5) scale(1,1.05)" stroke="#000" stroke-width="0.35">Correlation</text>
<rect x="763.4" y="45.4" width="27" height="27.8" fill="#0A88C2"/>
<rect x="763.4" y="76.3" width="27" height="27.7" fill="#FF4C00"/>
<rect x="763.4" y="107.9" width="27" height="27.1" fill="#00A650"/>
<rect x="924.3" y="45.4" width="28.5" height="28.8" fill="#FF0000"/>
<rect x="924.3" y="77.2" width="28.5" height="28.1" fill="#FF6066"/>
<rect x="924.3" y="107.9" width="28.5" height="29.1" fill="#FFD9DB"/>
<rect x="924.3" y="140.2" width="28.5" height="28.1" fill="#B3B8FF"/>
<rect x="924.3" y="171.7" width="28.5" height="28.6" fill="#1F48FF"/>
<text transform="translate(807.2,66.4) scale(1,1.05)" stroke="#000" stroke-width="0.35">PRAD</text>
<text transform="translate(807.2,98.3) scale(1,1.05)" stroke="#000" stroke-width="0.35">NEPC</text>
<text transform="translate(807.2,130.0) scale(1,1.05)" stroke="#000" stroke-width="0.35">DN</text>
<text transform="translate(964.5,66.4) scale(1,1.05)" stroke="#000" stroke-width="0.35">1</text>
<text transform="translate(962.3,131.0) scale(1,1.05)" stroke="#000" stroke-width="0.35">0.6</text>
<text transform="translate(960.0,195.0) scale(1,1.05)" stroke="#000" stroke-width="0.35">0.2</text>
</g>
<g id="panel-b">
<text x="1388.0" y="47.8" style="font-size:58px" font-weight="bold">b</text>
<defs><clipPath id="v281T"><circle cx="1872.0" cy="171.6" r="87.8"/></clipPath><clipPath id="v281B"><circle cx="1872.0" cy="394.6" r="87.8"/></clipPath></defs>
<circle cx="1872.0" cy="171.6" r="87.8" fill="#FCAB84"/>
<circle cx="1872.0" cy="394.6" r="87.8" fill="#8ECCE5"/>
<circle cx="1871.0" cy="281.8" r="109.2" fill="#FDB587" stroke="#000" stroke-width="2.8"/>
<g clip-path="url(#v281T)"><circle cx="1871.0" cy="281.8" r="109.2" fill="#FD8539" stroke="#A93C00" stroke-width="2.8"/></g>
<g clip-path="url(#v281B)"><circle cx="1871.0" cy="281.8" r="109.2" fill="#A9A8A9" stroke="#07506E" stroke-width="2.8"/></g>
<circle cx="1872.0" cy="171.6" r="87.8" fill="none" stroke="#000" stroke-width="2.8"/>
<circle cx="1872.0" cy="394.6" r="87.8" fill="none" stroke="#000" stroke-width="2.8"/>
<defs><clipPath id="v804T"><circle cx="1871.8" cy="693.8" r="87.5"/></clipPath><clipPath id="v804B"><circle cx="1871.8" cy="916.6" r="87.5"/></clipPath></defs>
<circle cx="1871.8" cy="693.8" r="87.5" fill="#FCAB84"/>
<circle cx="1871.8" cy="916.6" r="87.5" fill="#8ECCE5"/>
<circle cx="1870.0" cy="804.6" r="108.9" fill="#82C4E2" stroke="#000" stroke-width="2.8"/>
<g clip-path="url(#v804T)"><circle cx="1870.0" cy="804.6" r="108.9" fill="#E28F76" stroke="#B04000" stroke-width="2.8"/></g>
<g clip-path="url(#v804B)"><circle cx="1870.0" cy="804.6" r="108.9" fill="#28AEDB" stroke="#0A5D7F" stroke-width="2.8"/></g>
<circle cx="1871.8" cy="693.8" r="87.5" fill="none" stroke="#000" stroke-width="2.8"/>
<circle cx="1871.8" cy="916.6" r="87.5" fill="none" stroke="#000" stroke-width="2.8"/>
<defs><clipPath id="vLo"><circle cx="1568.5" cy="515.6" r="123"/></clipPath></defs>
<circle cx="1568.5" cy="515.6" r="123" fill="#FCAB84"/>
<circle cx="1568.5" cy="567.6" r="123" fill="#8ECCE5" stroke="#000" stroke-width="2.8"/>
<g clip-path="url(#vLo)"><circle cx="1568.5" cy="567.6" r="123" fill="#E59177" stroke="#B04000" stroke-width="2.8"/></g>
<circle cx="1568.5" cy="515.6" r="123" fill="none" stroke="#000" stroke-width="2.8"/>
<line x1="1567" y1="337" x2="1567" y2="429.5" stroke="#000" stroke-width="3.4"/>
<line x1="1567" y1="658" x2="1567" y2="751" stroke="#000" stroke-width="3.4"/>
<line x1="1680" y1="281.4" x2="1739" y2="281.4" stroke="#000" stroke-width="4.4"/>
<polygon points="1737.3,269.2 1761,281.45 1737.3,293.7" fill="#000"/>
<line x1="1681.7" y1="804" x2="1739" y2="804" stroke="#000" stroke-width="4"/>
<polygon points="1737.1,791.9 1760.2,803.9 1737.1,815.9" fill="#000"/>
<text transform="translate(1873.0,67.0) scale(1,1.05)" text-anchor="middle" fill="#FA5A04" stroke="#FA5A04" stroke-width="0.35">Ne-CREs</text>
<text transform="translate(1871.5,133.2) scale(1,1.05)" text-anchor="middle" stroke="#000" stroke-width="0.35">6,411</text>
<text transform="translate(1871.5,223.4) scale(1,1.05)" text-anchor="middle" font-weight="bold">8,574</text>
<text transform="translate(1871.5,359.6) scale(1,1.05)" text-anchor="middle" stroke="#000" stroke-width="0.35">2</text>
<text transform="translate(1871.5,439.2) scale(1,1.05)" text-anchor="middle" stroke="#000" stroke-width="0.35">4,336</text>
<text transform="translate(1873.0,517.3) scale(1,1.05)" text-anchor="middle" fill="#0894C8" stroke="#0894C8" stroke-width="0.35">Ad-CREs</text>
<text transform="translate(1578.8,276.0) scale(1,1.05)" text-anchor="middle" fill="#FA5A04" stroke="#FA5A04" stroke-width="0.35">20,935</text>
<text transform="translate(1578.8,304.6) scale(1,1.05)" text-anchor="middle" fill="#FA5A04" stroke="#FA5A04" stroke-width="0.35">(NEPC-enriched)</text>
<text transform="translate(1409.0,439.2) scale(1,1.05)" text-anchor="middle" fill="#FA5A04" stroke="#FA5A04" stroke-width="0.35">NEPC</text>
<text transform="translate(1408.0,468.0) scale(1,1.05)" text-anchor="middle" fill="#FA5A04" stroke="#FA5A04" stroke-width="0.35">FOXA1</text>
<text transform="translate(1409.0,649.2) scale(1,1.05)" text-anchor="middle" fill="#0894C8" stroke="#0894C8" stroke-width="0.35">PRAD</text>
<text transform="translate(1408.0,677.9) scale(1,1.05)" text-anchor="middle" fill="#0894C8" stroke="#0894C8" stroke-width="0.35">FOXA1</text>
<text transform="translate(1564.6,555.9) scale(1,1.05)" text-anchor="middle" stroke="#000" stroke-width="0.35">199,286</text>
<text transform="translate(1559.0,797.4) scale(1,1.05)" text-anchor="middle" fill="#0894C8" stroke="#0894C8" stroke-width="0.35">29,308</text>
<text transform="translate(1558.8,826.2) scale(1,1.05)" text-anchor="middle" fill="#0894C8" stroke="#0894C8" stroke-width="0.35">(PRAD-enriched)</text>
<text transform="translate(1873.0,588.2) scale(1,1.05)" text-anchor="middle" fill="#FA5A04" stroke="#FA5A04" stroke-width="0.35">Ne-CREs</text>
<text transform="translate(1871.0,661.8) scale(1,1.05)" text-anchor="middle" stroke="#000" stroke-width="0.35">14,976</text>
<text transform="translate(1871.5,739.0) scale(1,1.05)" text-anchor="middle" stroke="#000" stroke-width="0.35">9</text>
<text transform="translate(1871.5,884.3) scale(1,1.05)" text-anchor="middle" font-weight="bold">3,624</text>
<text transform="translate(1871.5,961.5) scale(1,1.05)" text-anchor="middle" stroke="#000" stroke-width="0.35">714</text>
<text transform="translate(1873.0,1036.9) scale(1,1.05)" text-anchor="middle" fill="#0894C8" stroke="#0894C8" stroke-width="0.35">Ad-CREs</text>
</g>
<g id="panel-c">
<text x="40.0" y="1189.2" style="font-size:58px" font-weight="bold">c</text>
<rect x="145.3" y="1240.7" width="112.5" height="68.4" fill="none" stroke="#7F7F7F" stroke-width="3"/>
<rect x="158.2" y="1254" width="17.7" height="17.8" fill="#0099CC"/>
<rect x="158.2" y="1280" width="17.7" height="15.6" fill="#FF5C00"/>
<text transform="translate(183.3,1269.3) scale(1,1.05)" stroke="#000" stroke-width="0.35">PRAD</text>
<text transform="translate(183.3,1294.2) scale(1,1.05)" stroke="#000" stroke-width="0.35">NEPC</text>
<rect x="283.9" y="1330.2" width="95.9" height="14.9" fill="#0099CC"/>
<rect x="382.1" y="1330.2" width="95.9" height="14.9" fill="#FF6000"/>
<rect x="285.0" y="1350.0" width="192.6" height="503.6" fill="#FEF0EA"/>
<clipPath id="c1"><rect x="381.30" y="1350.00" width="32.10" height="254.50"/></clipPath>
<g clip-path="url(#c1)">
<linearGradient id="g2" x1="0" y1="0" x2="0" y2="1"><stop offset="0" stop-color="#F5482A" stop-opacity="0.3"/><stop offset="1" stop-color="#F5482A" stop-opacity="0.08"/></linearGradient>
<polygon points="382.4,1348.0 412.4,1348.0 405.4,1606.5 389.4,1606.5" fill="url(#g2)" filter="url(#blur4_0)"/>
<linearGradient id="g3" x1="0" y1="0" x2="0" y2="1"><stop offset="0" stop-color="#F5482A" stop-opacity="0.85"/><stop offset="0.5" stop-color="#F5482A" stop-opacity="0.72"/><stop offset="1" stop-color="#F5482A" stop-opacity="0.5"/></linearGradient>
<polygon points="389.4,1348.0 405.4,1348.0 401.4,1606.5 393.4,1606.5" fill="url(#g3)" filter="url(#blur2_5)"/>
<linearGradient id="g4" x1="0" y1="0" x2="0" y2="1"><stop offset="0" stop-color="#FF0808" stop-opacity="0.95"/><stop offset="1" stop-color="#FF0808" stop-opacity="0.0"/></linearGradient>
<polygon points="383.4,1348.0 411.4,1348.0 408.4,1370.4 386.4,1370.4" fill="url(#g4)" filter="url(#blur3_0)"/>
</g>
<clipPath id="c5"><rect x="413.40" y="1350.00" width="32.10" height="254.50"/></clipPath>
<g clip-path="url(#c5)">
<linearGradient id="g6" x1="0" y1="0" x2="0" y2="1"><stop offset="0" stop-color="#F5482A" stop-opacity="0.2"/><stop offset="1" stop-color="#F5482A" stop-opacity="0.05"/></linearGradient>
<polygon points="415.4,1348.0 443.4,1348.0 437.4,1606.5 421.4,1606.5" fill="url(#g6)" filter="url(#blur4_0)"/>
<linearGradient id="g7" x1="0" y1="0" x2="0" y2="1"><stop offset="0" stop-color="#F5482A" stop-opacity="0.6"/><stop offset="0.5" stop-color="#F5482A" stop-opacity="0.45"/><stop offset="1" stop-color="#F5482A" stop-opacity="0.28"/></linearGradient>
<polygon points="421.9,1348.0 436.9,1348.0 432.9,1606.5 425.9,1606.5" fill="url(#g7)" filter="url(#blur2_5)"/>
<linearGradient id="g8" x1="0" y1="0" x2="0" y2="1"><stop offset="0" stop-color="#FF0808" stop-opacity="0.75"/><stop offset="1" stop-color="#FF0808" stop-opacity="0.0"/></linearGradient>
<polygon points="415.4,1348.0 443.4,1348.0 440.4,1367.8 418.4,1367.8" fill="url(#g8)" filter="url(#blur3_0)"/>
</g>
<clipPath id="c9"><rect x="445.50" y="1350.00" width="32.10" height="254.50"/></clipPath>
<g clip-path="url(#c9)">
<linearGradient id="g10" x1="0" y1="0" x2="0" y2="1"><stop offset="0" stop-color="#F5482A" stop-opacity="0.35"/><stop offset="1" stop-color="#F5482A" stop-opacity="0.15"/></linearGradient>
<polygon points="446.6,1348.0 476.6,1348.0 471.6,1606.5 451.6,1606.5" fill="url(#g10)" filter="url(#blur4_0)"/>
<linearGradient id="g11" x1="0" y1="0" x2="0" y2="1"><stop offset="0" stop-color="#F5482A" stop-opacity="0.95"/><stop offset="0.5" stop-color="#F5482A" stop-opacity="0.82"/><stop offset="1" stop-color="#F5482A" stop-opacity="0.6"/></linearGradient>
<polygon points="451.6,1348.0 471.6,1348.0 467.6,1606.5 455.6,1606.5" fill="url(#g11)" filter="url(#blur2_5)"/>
<linearGradient id="g12" x1="0" y1="0" x2="0" y2="1"><stop offset="0" stop-color="#FF0808" stop-opacity="1.0"/><stop offset="1" stop-color="#FF0808" stop-opacity="0.0"/></linearGradient>
<polygon points="446.6,1348.0 476.6,1348.0 472.6,1385.6 450.6,1385.6" fill="url(#g12)" filter="url(#blur3_0)"/>
</g>
<rect x="285.0" y="1606.6" width="192.6" height="168.4" fill="#F5482A" fill-opacity="0.03"/>
<clipPath id="c13"><rect x="285.00" y="1606.60" width="32.10" height="168.40"/></clipPath>
<g clip-path="url(#c13)">
<linearGradient id="g14" x1="0" y1="0" x2="0" y2="1"><stop offset="0" stop-color="#F5482A" stop-opacity="0.1"/><stop offset="1" stop-color="#F5482A" stop-opacity="0.08"/></linearGradient>
<polygon points="293.1,1604.6 309.1,1604.6 308.1,1777.0 294.1,1777.0" fill="url(#g14)" filter="url(#blur4_0)"/>
</g>
<clipPath id="c15"><rect x="317.10" y="1606.60" width="32.10" height="168.40"/></clipPath>
<g clip-path="url(#c15)">
<linearGradient id="g16" x1="0" y1="0" x2="0" y2="1"><stop offset="0" stop-color="#F5482A" stop-opacity="0.1"/><stop offset="1" stop-color="#F5482A" stop-opacity="0.08"/></linearGradient>
<polygon points="325.2,1604.6 341.2,1604.6 340.2,1777.0 326.2,1777.0" fill="url(#g16)" filter="url(#blur4_0)"/>
</g>
<clipPath id="c17"><rect x="349.20" y="1606.60" width="32.10" height="168.40"/></clipPath>
<g clip-path="url(#c17)">
<linearGradient id="g18" x1="0" y1="0" x2="0" y2="1"><stop offset="0" stop-color="#F5482A" stop-opacity="0.1"/><stop offset="1" stop-color="#F5482A" stop-opacity="0.08"/></linearGradient>
<polygon points="357.2,1604.6 373.2,1604.6 372.2,1777.0 358.2,1777.0" fill="url(#g18)" filter="url(#blur4_0)"/>
</g>
<clipPath id="c19"><rect x="381.30" y="1606.60" width="32.10" height="168.40"/></clipPath>
<g clip-path="url(#c19)">
<linearGradient id="g20" x1="0" y1="0" x2="0" y2="1"><stop offset="0" stop-color="#F5482A" stop-opacity="0.1"/><stop offset="1" stop-color="#F5482A" stop-opacity="0.08"/></linearGradient>
<polygon points="389.4,1604.6 405.4,1604.6 404.4,1777.0 390.4,1777.0" fill="url(#g20)" filter="url(#blur4_0)"/>
</g>
<clipPath id="c21"><rect x="413.40" y="1606.60" width="32.10" height="168.40"/></clipPath>
<g clip-path="url(#c21)">
<linearGradient id="g22" x1="0" y1="0" x2="0" y2="1"><stop offset="0" stop-color="#F5482A" stop-opacity="0.1"/><stop offset="1" stop-color="#F5482A" stop-opacity="0.08"/></linearGradient>
<polygon points="421.4,1604.6 437.4,1604.6 436.4,1777.0 422.4,1777.0" fill="url(#g22)" filter="url(#blur4_0)"/>
</g>
<clipPath id="c23"><rect x="445.50" y="1606.60" width="32.10" height="168.40"/></clipPath>
<g clip-path="url(#c23)">
<linearGradient id="g24" x1="0" y1="0" x2="0" y2="1"><stop offset="0" stop-color="#F5482A" stop-opacity="0.1"/><stop offset="1" stop-color="#F5482A" stop-opacity="0.08"/></linearGradient>
<polygon points="453.6,1604.6 469.6,1604.6 468.6,1777.0 454.6,1777.0" fill="url(#g24)" filter="url(#blur4_0)"/>
</g>
<clipPath id="c25"><rect x="285.00" y="1777.00" width="32.10" height="76.60"/></clipPath>
<g clip-path="url(#c25)">
<linearGradient id="g26" x1="0" y1="0" x2="0" y2="1"><stop offset="0" stop-color="#F5482A" stop-opacity="0.25"/><stop offset="1" stop-color="#F5482A" stop-opacity="0.15"/></linearGradient>
<polygon points="286.1,1775.0 316.1,1775.0 313.1,1855.6 289.1,1855.6" fill="url(#g26)" filter="url(#blur4_0)"/>
<linearGradient id="g27" x1="0" y1="0" x2="0" y2="1"><stop offset="0" stop-color="#F5482A" stop-opacity="0.9"/><stop offset="0.5" stop-color="#F5482A" stop-opacity="0.85"/><stop offset="1" stop-color="#F5482A" stop-opacity="0.7"/></linearGradient>
<polygon points="293.6,1775.0 308.6,1775.0 306.6,1855.6 295.6,1855.6" fill="url(#g27)" filter="url(#blur2_5)"/>
<linearGradient id="g28" x1="0" y1="0" x2="0" y2="1"><stop offset="0" stop-color="#FF0808" stop-opacity="0.9"/><stop offset="1" stop-color="#FF0808" stop-opacity="0.0"/></linearGradient>
<polygon points="289.1,1775.0 313.1,1775.0 309.1,1798.4 293.1,1798.4" fill="url(#g28)" filter="url(#blur3_0)"/>
</g>
<clipPath id="c29"><rect x="317.10" y="1777.00" width="32.10" height="76.60"/></clipPath>
<g clip-path="url(#c29)">
<linearGradient id="g30" x1="0" y1="0" x2="0" y2="1"><stop offset="0" stop-color="#F5482A" stop-opacity="0.3"/><stop offset="1" stop-color="#F5482A" stop-opacity="0.2"/></linearGradient>
<polygon points="318.2,1775.0 348.2,1775.0 345.2,1855.6 321.2,1855.6" fill="url(#g30)" filter="url(#blur4_0)"/>
<linearGradient id="g31" x1="0" y1="0" x2="0" y2="1"><stop offset="0" stop-color="#F5482A" stop-opacity="0.95"/><stop offset="0.5" stop-color="#F5482A" stop-opacity="0.9"/><stop offset="1" stop-color="#F5482A" stop-opacity="0.75"/></linearGradient>
<polygon points="325.2,1775.0 341.2,1775.0 339.2,1855.6 327.2,1855.6" fill="url(#g31)" filter="url(#blur2_5)"/>
<linearGradient id="g32" x1="0" y1="0" x2="0" y2="1"><stop offset="0" stop-color="#FF0808" stop-opacity="1.0"/><stop offset="1" stop-color="#FF0808" stop-opacity="0.0"/></linearGradient>
<polygon points="321.2,1775.0 345.2,1775.0 341.2,1803.8 325.2,1803.8" fill="url(#g32)" filter="url(#blur3_0)"/>
</g>
<clipPath id="c33"><rect x="349.20" y="1777.00" width="32.10" height="76.60"/></clipPath>
<g clip-path="url(#c33)">
<linearGradient id="g34" x1="0" y1="0" x2="0" y2="1"><stop offset="0" stop-color="#F5482A" stop-opacity="0.2"/><stop offset="1" stop-color="#F5482A" stop-opacity="0.1"/></linearGradient>
<polygon points="350.2,1775.0 380.2,1775.0 377.2,1855.6 353.2,1855.6" fill="url(#g34)" filter="url(#blur4_0)"/>
<linearGradient id="g35" x1="0" y1="0" x2="0" y2="1"><stop offset="0" stop-color="#F5482A" stop-opacity="0.65"/><stop offset="0.5" stop-color="#F5482A" stop-opacity="0.55"/><stop offset="1" stop-color="#F5482A" stop-opacity="0.4"/></linearGradient>
<polygon points="357.8,1775.0 372.8,1775.0 370.2,1855.6 360.2,1855.6" fill="url(#g35)" filter="url(#blur2_5)"/>
<linearGradient id="g36" x1="0" y1="0" x2="0" y2="1"><stop offset="0" stop-color="#FF0808" stop-opacity="0.7"/><stop offset="1" stop-color="#FF0808" stop-opacity="0.0"/></linearGradient>
<polygon points="353.2,1775.0 377.2,1775.0 373.2,1792.3 357.2,1792.3" fill="url(#g36)" filter="url(#blur3_0)"/>
</g>
<line x1="317.1" y1="1350.0" x2="317.1" y2="1853.6" stroke="#fff" stroke-opacity="0.55" stroke-width="1"/>
<line x1="349.2" y1="1350.0" x2="349.2" y2="1853.6" stroke="#fff" stroke-opacity="0.55" stroke-width="1"/>
<line x1="381.3" y1="1350.0" x2="381.3" y2="1853.6" stroke="#fff" stroke-opacity="0.55" stroke-width="1"/>
<line x1="413.4" y1="1350.0" x2="413.4" y2="1853.6" stroke="#fff" stroke-opacity="0.55" stroke-width="1"/>
<line x1="445.5" y1="1350.0" x2="445.5" y2="1853.6" stroke="#fff" stroke-opacity="0.55" stroke-width="1"/>
<rect x="285.0" y="1604.5" width="192.6" height="2.1" fill="#fff"/>
<rect x="285.0" y="1775.0" width="192.6" height="2.0" fill="#fff"/>
<rect x="284.0" y="1348.1" width="194.7" height="507.3" fill="none" stroke="#808080" stroke-width="2.6"/>
<rect x="503.8" y="1330.2" width="95.5" height="15.0" fill="#0099CC"/>
<rect x="601.7" y="1330.2" width="96.2" height="15.0" fill="#FF6000"/>
<rect x="504.6" y="1350.0" width="192.6" height="503.6" fill="#F4F3F9"/>
<clipPath id="c37"><rect x="600.90" y="1350.00" width="32.10" height="255.10"/></clipPath>
<g clip-path="url(#c37)">
<linearGradient id="g38" x1="0" y1="0" x2="0" y2="1"><stop offset="0" stop-color="#9A94D4" stop-opacity="0.4"/><stop offset="1" stop-color="#9A94D4" stop-opacity="0.15"/></linearGradient>
<polygon points="602.0,1348.0 632.0,1348.0 625.0,1607.1 609.0,1607.1" fill="url(#g38)" filter="url(#blur4_0)"/>
<linearGradient id="g39" x1="0" y1="0" x2="0" y2="1"><stop offset="0" stop-color="#4A3CA8" stop-opacity="0.75"/><stop offset="0.5" stop-color="#4A3CA8" stop-opacity="0.7"/><stop offset="1" stop-color="#4A3CA8" stop-opacity="0.65"/></linearGradient>
<polygon points="611.5,1348.0 622.5,1348.0 620.0,1607.1 614.0,1607.1" fill="url(#g39)" filter="url(#blur2_5)"/>
</g>
<clipPath id="c40"><rect x="633.00" y="1350.00" width="32.10" height="255.10"/></clipPath>
<g clip-path="url(#c40)">
<linearGradient id="g41" x1="0" y1="0" x2="0" y2="1"><stop offset="0" stop-color="#9A94D4" stop-opacity="0.3"/><stop offset="1" stop-color="#9A94D4" stop-opacity="0.08"/></linearGradient>
<polygon points="635.0,1348.0 663.0,1348.0 655.0,1607.1 643.0,1607.1" fill="url(#g41)" filter="url(#blur4_0)"/>
<linearGradient id="g42" x1="0" y1="0" x2="0" y2="1"><stop offset="0" stop-color="#4A3CA8" stop-opacity="0.5"/><stop offset="0.5" stop-color="#4A3CA8" stop-opacity="0.45"/><stop offset="1" stop-color="#4A3CA8" stop-opacity="0.38"/></linearGradient>
<polygon points="644.5,1348.0 653.5,1348.0 651.5,1607.1 646.5,1607.1" fill="url(#g42)" filter="url(#blur2_5)"/>
</g>
<clipPath id="c43"><rect x="665.10" y="1350.00" width="32.10" height="255.10"/></clipPath>
<g clip-path="url(#c43)">
<linearGradient id="g44" x1="0" y1="0" x2="0" y2="1"><stop offset="0" stop-color="#9A94D4" stop-opacity="0.2"/><stop offset="1" stop-color="#9A94D4" stop-opacity="0.05"/></linearGradient>
<polygon points="669.2,1348.0 693.2,1348.0 687.2,1607.1 675.2,1607.1" fill="url(#g44)" filter="url(#blur4_0)"/>
<linearGradient id="g45" x1="0" y1="0" x2="0" y2="1"><stop offset="0" stop-color="#4A3CA8" stop-opacity="0.3"/><stop offset="1" stop-color="#4A3CA8" stop-opacity="0.2"/></linearGradient>
<polygon points="677.2,1348.0 685.2,1348.0 683.7,1607.1 678.7,1607.1" fill="url(#g45)" filter="url(#blur2_5)"/>
</g>
<rect x="504.6" y="1607.2" width="192.6" height="170.8" fill="#4A3CA8" fill-opacity="0.02"/>
<clipPath id="c46"><rect x="504.60" y="1607.20" width="32.10" height="170.80"/></clipPath>
<g clip-path="url(#c46)">
<linearGradient id="g47" x1="0" y1="0" x2="0" y2="1"><stop offset="0" stop-color="#4A3CA8" stop-opacity="0.15"/><stop offset="1" stop-color="#4A3CA8" stop-opacity="0.12"/></linearGradient>
<polygon points="515.7,1605.2 525.7,1605.2 524.7,1780.0 516.7,1780.0" fill="url(#g47)" filter="url(#blur2_5)"/>
</g>
<clipPath id="c48"><rect x="536.70" y="1607.20" width="32.10" height="170.80"/></clipPath>
<g clip-path="url(#c48)">
<linearGradient id="g49" x1="0" y1="0" x2="0" y2="1"><stop offset="0" stop-color="#4A3CA8" stop-opacity="0.15"/><stop offset="1" stop-color="#4A3CA8" stop-opacity="0.12"/></linearGradient>
<polygon points="547.8,1605.2 557.8,1605.2 556.8,1780.0 548.8,1780.0" fill="url(#g49)" filter="url(#blur2_5)"/>
</g>
<clipPath id="c50"><rect x="568.80" y="1607.20" width="32.10" height="170.80"/></clipPath>
<g clip-path="url(#c50)">
<linearGradient id="g51" x1="0" y1="0" x2="0" y2="1"><stop offset="0" stop-color="#4A3CA8" stop-opacity="0.15"/><stop offset="1" stop-color="#4A3CA8" stop-opacity="0.12"/></linearGradient>
<polygon points="579.9,1605.2 589.9,1605.2 588.9,1780.0 580.9,1780.0" fill="url(#g51)" filter="url(#blur2_5)"/>
</g>
<clipPath id="c52"><rect x="600.90" y="1607.20" width="32.10" height="170.80"/></clipPath>
<g clip-path="url(#c52)">
<linearGradient id="g53" x1="0" y1="0" x2="0" y2="1"><stop offset="0" stop-color="#4A3CA8" stop-opacity="0.1"/><stop offset="1" stop-color="#4A3CA8" stop-opacity="0.08"/></linearGradient>
<polygon points="612.0,1605.2 622.0,1605.2 621.0,1780.0 613.0,1780.0" fill="url(#g53)" filter="url(#blur2_5)"/>
</g>
<clipPath id="c54"><rect x="633.00" y="1607.20" width="32.10" height="170.80"/></clipPath>
<g clip-path="url(#c54)">
<linearGradient id="g55" x1="0" y1="0" x2="0" y2="1"><stop offset="0" stop-color="#4A3CA8" stop-opacity="0.1"/><stop offset="1" stop-color="#4A3CA8" stop-opacity="0.08"/></linearGradient>
<polygon points="644.0,1605.2 654.0,1605.2 653.0,1780.0 645.0,1780.0" fill="url(#g55)" filter="url(#blur2_5)"/>
</g>
<clipPath id="c56"><rect x="665.10" y="1607.20" width="32.10" height="170.80"/></clipPath>
<g clip-path="url(#c56)">
<linearGradient id="g57" x1="0" y1="0" x2="0" y2="1"><stop offset="0" stop-color="#4A3CA8" stop-opacity="0.06"/><stop offset="1" stop-color="#4A3CA8" stop-opacity="0.05"/></linearGradient>
<polygon points="676.2,1605.2 686.2,1605.2 685.2,1780.0 677.2,1780.0" fill="url(#g57)" filter="url(#blur2_5)"/>
</g>
<clipPath id="c58"><rect x="504.60" y="1780.00" width="32.10" height="73.60"/></clipPath>
<g clip-path="url(#c58)">
<linearGradient id="g59" x1="0" y1="0" x2="0" y2="1"><stop offset="0" stop-color="#9A94D4" stop-opacity="0.4"/><stop offset="1" stop-color="#9A94D4" stop-opacity="0.35"/></linearGradient>
<polygon points="505.7,1778.0 535.7,1778.0 532.7,1855.6 508.7,1855.6" fill="url(#g59)" filter="url(#blur4_0)"/>
<linearGradient id="g60" x1="0" y1="0" x2="0" y2="1"><stop offset="0" stop-color="#4A3CA8" stop-opacity="0.72"/><stop offset="1" stop-color="#4A3CA8" stop-opacity="0.68"/></linearGradient>
<polygon points="515.2,1778.0 526.2,1778.0 524.7,1855.6 516.7,1855.6" fill="url(#g60)" filter="url(#blur2_5)"/>
</g>
<clipPath id="c61"><rect x="536.70" y="1780.00" width="32.10" height="73.60"/></clipPath>
<g clip-path="url(#c61)">
<linearGradient id="g62" x1="0" y1="0" x2="0" y2="1"><stop offset="0" stop-color="#9A94D4" stop-opacity="0.45"/><stop offset="1" stop-color="#9A94D4" stop-opacity="0.4"/></linearGradient>
<polygon points="537.8,1778.0 567.8,1778.0 564.8,1855.6 540.8,1855.6" fill="url(#g62)" filter="url(#blur4_0)"/>
<linearGradient id="g63" x1="0" y1="0" x2="0" y2="1"><stop offset="0" stop-color="#4A3CA8" stop-opacity="0.82"/><stop offset="1" stop-color="#4A3CA8" stop-opacity="0.78"/></linearGradient>
<polygon points="546.8,1778.0 558.8,1778.0 557.2,1855.6 548.2,1855.6" fill="url(#g63)" filter="url(#blur2_5)"/>
</g>
<clipPath id="c64"><rect x="568.80" y="1780.00" width="32.10" height="73.60"/></clipPath>
<g clip-path="url(#c64)">
<linearGradient id="g65" x1="0" y1="0" x2="0" y2="1"><stop offset="0" stop-color="#9A94D4" stop-opacity="0.4"/><stop offset="1" stop-color="#9A94D4" stop-opacity="0.35"/></linearGradient>
<polygon points="569.9,1778.0 599.9,1778.0 596.9,1855.6 572.9,1855.6" fill="url(#g65)" filter="url(#blur4_0)"/>
<linearGradient id="g66" x1="0" y1="0" x2="0" y2="1"><stop offset="0" stop-color="#4A3CA8" stop-opacity="0.72"/><stop offset="1" stop-color="#4A3CA8" stop-opacity="0.62"/></linearGradient>
<polygon points="579.4,1778.0 590.4,1778.0 588.9,1855.6 580.9,1855.6" fill="url(#g66)" filter="url(#blur2_5)"/>
</g>
<clipPath id="c67"><rect x="633.00" y="1780.00" width="32.10" height="73.60"/></clipPath>
<g clip-path="url(#c67)">
<linearGradient id="g68" x1="0" y1="0" x2="0" y2="1"><stop offset="0" stop-color="#4A3CA8" stop-opacity="0.04"/><stop offset="1" stop-color="#4A3CA8" stop-opacity="0.03"/></linearGradient>
<polygon points="644.0,1778.0 654.0,1778.0 654.0,1855.6 644.0,1855.6" fill="url(#g68)" filter="url(#blur2_0)"/>
</g>
<line x1="536.7" y1="1350.0" x2="536.7" y2="1853.6" stroke="#fff" stroke-opacity="0.55" stroke-width="1"/>
<line x1="568.8" y1="1350.0" x2="568.8" y2="1853.6" stroke="#fff" stroke-opacity="0.55" stroke-width="1"/>
<line x1="600.9" y1="1350.0" x2="600.9" y2="1853.6" stroke="#fff" stroke-opacity="0.55" stroke-width="1"/>
<line x1="633.0" y1="1350.0" x2="633.0" y2="1853.6" stroke="#fff" stroke-opacity="0.55" stroke-width="1"/>
<line x1="665.1" y1="1350.0" x2="665.1" y2="1853.6" stroke="#fff" stroke-opacity="0.55" stroke-width="1"/>
<rect x="504.6" y="1605.1" width="192.6" height="2.1" fill="#fff"/>
<rect x="504.6" y="1778.0" width="192.6" height="2.0" fill="#fff"/>
<rect x="503.5" y="1348.1" width="195.1" height="507.3" fill="none" stroke="#808080" stroke-width="2.6"/>
<rect x="723.6" y="1327.9" width="95.4" height="15.4" fill="#0099CC"/>
<rect x="821.9" y="1327.9" width="95.7" height="15.4" fill="#FF6000"/>
<rect x="725.0" y="1347.8" width="193.5" height="503.8" fill="#E0EFFA"/>
<clipPath id="c69"><rect x="821.75" y="1347.80" width="32.25" height="258.80"/></clipPath>
<g clip-path="url(#c69)">
<linearGradient id="g70" x1="0" y1="0" x2="0" y2="1"><stop offset="0" stop-color="#7EC0E8" stop-opacity="0.6"/><stop offset="1" stop-color="#7EC0E8" stop-opacity="0.2"/></linearGradient>
<polygon points="822.9,1345.8 852.9,1345.8 844.9,1608.6 830.9,1608.6" fill="url(#g70)" filter="url(#blur4_0)"/>
<linearGradient id="g71" x1="0" y1="0" x2="0" y2="1"><stop offset="0" stop-color="#0A8FCC" stop-opacity="0.85"/><stop offset="0.5" stop-color="#0A8FCC" stop-opacity="0.8"/><stop offset="1" stop-color="#0A8FCC" stop-opacity="0.7"/></linearGradient>
<polygon points="831.4,1345.8 844.4,1345.8 840.9,1608.6 834.9,1608.6" fill="url(#g71)" filter="url(#blur2_5)"/>
</g>
<clipPath id="c72"><rect x="854.00" y="1347.80" width="32.25" height="258.80"/></clipPath>
<g clip-path="url(#c72)">
<linearGradient id="g73" x1="0" y1="0" x2="0" y2="1"><stop offset="0" stop-color="#7EC0E8" stop-opacity="0.55"/><stop offset="1" stop-color="#7EC0E8" stop-opacity="0.15"/></linearGradient>
<polygon points="855.1,1345.8 885.1,1345.8 876.1,1608.6 864.1,1608.6" fill="url(#g73)" filter="url(#blur4_0)"/>
<linearGradient id="g74" x1="0" y1="0" x2="0" y2="1"><stop offset="0" stop-color="#0A8FCC" stop-opacity="0.75"/><stop offset="0.5" stop-color="#0A8FCC" stop-opacity="0.55"/><stop offset="1" stop-color="#0A8FCC" stop-opacity="0.4"/></linearGradient>
<polygon points="864.6,1345.8 875.6,1345.8 872.6,1608.6 867.6,1608.6" fill="url(#g74)" filter="url(#blur2_5)"/>
</g>
<clipPath id="c75"><rect x="886.25" y="1347.80" width="32.25" height="258.80"/></clipPath>
<g clip-path="url(#c75)">
<linearGradient id="g76" x1="0" y1="0" x2="0" y2="1"><stop offset="0" stop-color="#7EC0E8" stop-opacity="0.5"/><stop offset="1" stop-color="#7EC0E8" stop-opacity="0.15"/></linearGradient>
<polygon points="887.4,1345.8 917.4,1345.8 908.4,1608.6 896.4,1608.6" fill="url(#g76)" filter="url(#blur4_0)"/>
<linearGradient id="g77" x1="0" y1="0" x2="0" y2="1"><stop offset="0" stop-color="#0A8FCC" stop-opacity="0.7"/><stop offset="0.5" stop-color="#0A8FCC" stop-opacity="0.5"/><stop offset="1" stop-color="#0A8FCC" stop-opacity="0.35"/></linearGradient>
<polygon points="896.9,1345.8 907.9,1345.8 904.9,1608.6 899.9,1608.6" fill="url(#g77)" filter="url(#blur2_5)"/>
</g>
<rect x="725.0" y="1608.7" width="193.5" height="170.6" fill="#4AA8E0" fill-opacity="0.05"/>
<clipPath id="c78"><rect x="725.00" y="1608.70" width="32.25" height="170.60"/></clipPath>
<g clip-path="url(#c78)">
<linearGradient id="g79" x1="0" y1="0" x2="0" y2="1"><stop offset="0" stop-color="#7EC0E8" stop-opacity="0.09"/><stop offset="1" stop-color="#7EC0E8" stop-opacity="0.07"/></linearGradient>
<polygon points="727.1,1606.7 755.1,1606.7 753.1,1781.3 729.1,1781.3" fill="url(#g79)" filter="url(#blur4_0)"/>
<linearGradient id="g80" x1="0" y1="0" x2="0" y2="1"><stop offset="0" stop-color="#0A8FCC" stop-opacity="0.08"/><stop offset="1" stop-color="#0A8FCC" stop-opacity="0.06"/></linearGradient>
<polygon points="736.1,1606.7 746.1,1606.7 746.1,1781.3 736.1,1781.3" fill="url(#g80)" filter="url(#blur2_5)"/>
</g>
<clipPath id="c81"><rect x="757.25" y="1608.70" width="32.25" height="170.60"/></clipPath>
<g clip-path="url(#c81)">
<linearGradient id="g82" x1="0" y1="0" x2="0" y2="1"><stop offset="0" stop-color="#7EC0E8" stop-opacity="0.09"/><stop offset="1" stop-color="#7EC0E8" stop-opacity="0.07"/></linearGradient>
<polygon points="759.4,1606.7 787.4,1606.7 785.4,1781.3 761.4,1781.3" fill="url(#g82)" filter="url(#blur4_0)"/>
<linearGradient id="g83" x1="0" y1="0" x2="0" y2="1"><stop offset="0" stop-color="#0A8FCC" stop-opacity="0.08"/><stop offset="1" stop-color="#0A8FCC" stop-opacity="0.06"/></linearGradient>
<polygon points="768.4,1606.7 778.4,1606.7 778.4,1781.3 768.4,1781.3" fill="url(#g83)" filter="url(#blur2_5)"/>
</g>
<clipPath id="c84"><rect x="789.50" y="1608.70" width="32.25" height="170.60"/></clipPath>
<g clip-path="url(#c84)">
<linearGradient id="g85" x1="0" y1="0" x2="0" y2="1"><stop offset="0" stop-color="#7EC0E8" stop-opacity="0.09"/><stop offset="1" stop-color="#7EC0E8" stop-opacity="0.07"/></linearGradient>
<polygon points="791.6,1606.7 819.6,1606.7 817.6,1781.3 793.6,1781.3" fill="url(#g85)" filter="url(#blur4_0)"/>
<linearGradient id="g86" x1="0" y1="0" x2="0" y2="1"><stop offset="0" stop-color="#0A8FCC" stop-opacity="0.08"/><stop offset="1" stop-color="#0A8FCC" stop-opacity="0.06"/></linearGradient>
<polygon points="800.6,1606.7 810.6,1606.7 810.6,1781.3 800.6,1781.3" fill="url(#g86)" filter="url(#blur2_5)"/>
</g>
<clipPath id="c87"><rect x="821.75" y="1608.70" width="32.25" height="170.60"/></clipPath>
<g clip-path="url(#c87)">
<linearGradient id="g88" x1="0" y1="0" x2="0" y2="1"><stop offset="0" stop-color="#7EC0E8" stop-opacity="0.09"/><stop offset="1" stop-color="#7EC0E8" stop-opacity="0.07"/></linearGradient>
<polygon points="823.9,1606.7 851.9,1606.7 849.9,1781.3 825.9,1781.3" fill="url(#g88)" filter="url(#blur4_0)"/>
<linearGradient id="g89" x1="0" y1="0" x2="0" y2="1"><stop offset="0" stop-color="#0A8FCC" stop-opacity="0.08"/><stop offset="1" stop-color="#0A8FCC" stop-opacity="0.06"/></linearGradient>
<polygon points="832.9,1606.7 842.9,1606.7 842.9,1781.3 832.9,1781.3" fill="url(#g89)" filter="url(#blur2_5)"/>
</g>
<clipPath id="c90"><rect x="854.00" y="1608.70" width="32.25" height="170.60"/></clipPath>
<g clip-path="url(#c90)">
<linearGradient id="g91" x1="0" y1="0" x2="0" y2="1"><stop offset="0" stop-color="#7EC0E8" stop-opacity="0.09"/><stop offset="1" stop-color="#7EC0E8" stop-opacity="0.07"/></linearGradient>
<polygon points="856.1,1606.7 884.1,1606.7 882.1,1781.3 858.1,1781.3" fill="url(#g91)" filter="url(#blur4_0)"/>
<linearGradient id="g92" x1="0" y1="0" x2="0" y2="1"><stop offset="0" stop-color="#0A8FCC" stop-opacity="0.08"/><stop offset="1" stop-color="#0A8FCC" stop-opacity="0.06"/></linearGradient>
<polygon points="865.1,1606.7 875.1,1606.7 875.1,1781.3 865.1,1781.3" fill="url(#g92)" filter="url(#blur2_5)"/>
</g>
<clipPath id="c93"><rect x="886.25" y="1608.70" width="32.25" height="170.60"/></clipPath>
<g clip-path="url(#c93)">
<linearGradient id="g94" x1="0" y1="0" x2="0" y2="1"><stop offset="0" stop-color="#7EC0E8" stop-opacity="0.09"/><stop offset="1" stop-color="#7EC0E8" stop-opacity="0.07"/></linearGradient>
<polygon points="888.4,1606.7 916.4,1606.7 914.4,1781.3 890.4,1781.3" fill="url(#g94)" filter="url(#blur4_0)"/>
<linearGradient id="g95" x1="0" y1="0" x2="0" y2="1"><stop offset="0" stop-color="#0A8FCC" stop-opacity="0.08"/><stop offset="1" stop-color="#0A8FCC" stop-opacity="0.06"/></linearGradient>
<polygon points="897.4,1606.7 907.4,1606.7 907.4,1781.3 897.4,1781.3" fill="url(#g95)" filter="url(#blur2_5)"/>
</g>
<clipPath id="c96"><rect x="725.00" y="1781.30" width="32.25" height="70.30"/></clipPath>
<g clip-path="url(#c96)">
<linearGradient id="g97" x1="0" y1="0" x2="0" y2="1"><stop offset="0" stop-color="#7EC0E8" stop-opacity="0.45"/><stop offset="1" stop-color="#7EC0E8" stop-opacity="0.35"/></linearGradient>
<polygon points="726.1,1779.3 756.1,1779.3 753.1,1853.6 729.1,1853.6" fill="url(#g97)" filter="url(#blur4_0)"/>
<linearGradient id="g98" x1="0" y1="0" x2="0" y2="1"><stop offset="0" stop-color="#0A8FCC" stop-opacity="0.85"/><stop offset="1" stop-color="#0A8FCC" stop-opacity="0.75"/></linearGradient>
<polygon points="735.1,1779.3 747.1,1779.3 744.6,1853.6 737.6,1853.6" fill="url(#g98)" filter="url(#blur2_5)"/>
</g>
<clipPath id="c99"><rect x="757.25" y="1781.30" width="32.25" height="70.30"/></clipPath>
<g clip-path="url(#c99)">
<linearGradient id="g100" x1="0" y1="0" x2="0" y2="1"><stop offset="0" stop-color="#7EC0E8" stop-opacity="0.45"/><stop offset="1" stop-color="#7EC0E8" stop-opacity="0.35"/></linearGradient>
<polygon points="758.4,1779.3 788.4,1779.3 785.4,1853.6 761.4,1853.6" fill="url(#g100)" filter="url(#blur4_0)"/>
<linearGradient id="g101" x1="0" y1="0" x2="0" y2="1"><stop offset="0" stop-color="#0A8FCC" stop-opacity="0.8"/><stop offset="1" stop-color="#0A8FCC" stop-opacity="0.7"/></linearGradient>
<polygon points="767.4,1779.3 779.4,1779.3 776.9,1853.6 769.9,1853.6" fill="url(#g101)" filter="url(#blur2_5)"/>
</g>
<clipPath id="c102"><rect x="789.50" y="1781.30" width="32.25" height="70.30"/></clipPath>
<g clip-path="url(#c102)">
<linearGradient id="g103" x1="0" y1="0" x2="0" y2="1"><stop offset="0" stop-color="#7EC0E8" stop-opacity="0.4"/><stop offset="1" stop-color="#7EC0E8" stop-opacity="0.3"/></linearGradient>
<polygon points="790.6,1779.3 820.6,1779.3 817.6,1853.6 793.6,1853.6" fill="url(#g103)" filter="url(#blur4_0)"/>
<linearGradient id="g104" x1="0" y1="0" x2="0" y2="1"><stop offset="0" stop-color="#0A8FCC" stop-opacity="0.65"/><stop offset="1" stop-color="#0A8FCC" stop-opacity="0.5"/></linearGradient>
<polygon points="800.1,1779.3 811.1,1779.3 808.6,1853.6 802.6,1853.6" fill="url(#g104)" filter="url(#blur2_5)"/>
</g>
<line x1="757.2" y1="1347.8" x2="757.2" y2="1851.6" stroke="#fff" stroke-opacity="0.55" stroke-width="1"/>
<line x1="789.5" y1="1347.8" x2="789.5" y2="1851.6" stroke="#fff" stroke-opacity="0.55" stroke-width="1"/>
<line x1="821.8" y1="1347.8" x2="821.8" y2="1851.6" stroke="#fff" stroke-opacity="0.55" stroke-width="1"/>
<line x1="854.0" y1="1347.8" x2="854.0" y2="1851.6" stroke="#fff" stroke-opacity="0.55" stroke-width="1"/>
<line x1="886.2" y1="1347.8" x2="886.2" y2="1851.6" stroke="#fff" stroke-opacity="0.55" stroke-width="1"/>
<rect x="725.0" y="1606.6" width="193.5" height="2.1" fill="#fff"/>
<rect x="725.0" y="1779.3" width="193.5" height="2.0" fill="#fff"/>
<rect x="724.2" y="1346.1" width="195.3" height="507.1" fill="none" stroke="#808080" stroke-width="2.6"/>
<text transform="translate(306.9,1308.0) rotate(-90) scale(1,1.05)" stroke="#000" stroke-width="0.35">LuCaP</text>
<text transform="translate(338.8,1308.0) rotate(-90) scale(1,1.05)" stroke="#000" stroke-width="0.35">77</text>
<text transform="translate(338.8,1308.0) rotate(-90) scale(1,1.05)" stroke="#000" stroke-width="0.35">LuCaP</text>
<text transform="translate(373.1,1308.0) rotate(-90) scale(1,1.05)" stroke="#000" stroke-width="0.35">78</text>
<text transform="translate(373.1,1308.0) rotate(-90) scale(1,1.05)" stroke="#000" stroke-width="0.35">LuCaP</text>
<text transform="translate(404.9,1308.0) rotate(-90) scale(1,1.05)" stroke="#000" stroke-width="0.35">81</text>
<text transform="translate(404.9,1308.0) rotate(-90) scale(1,1.05)" stroke="#000" stroke-width="0.35">LuCaP</text>
<text transform="translate(438.0,1308.0) rotate(-90) scale(1,1.05)" stroke="#000" stroke-width="0.35">93</text>
<text transform="translate(438.0,1308.0) rotate(-90) scale(1,1.05)" stroke="#000" stroke-width="0.35">LuCaP</text>
<text transform="translate(470.4,1308.0) rotate(-90) scale(1,1.05)" stroke="#000" stroke-width="0.35">145.2</text>
<text transform="translate(470.4,1308.0) rotate(-90) scale(1,1.05)" stroke="#000" stroke-width="0.35">LuCaP</text>
<text transform="translate(500.4,1308.0) rotate(-90) scale(1,1.05)" stroke="#000" stroke-width="0.35">173.1</text>
<text transform="translate(526.7,1308.0) rotate(-90) scale(1,1.05)" stroke="#000" stroke-width="0.35">LuCaP</text>
<text transform="translate(558.6,1308.0) rotate(-90) scale(1,1.05)" stroke="#000" stroke-width="0.35">77</text>
<text transform="translate(558.6,1308.0) rotate(-90) scale(1,1.05)" stroke="#000" stroke-width="0.35">LuCaP</text>
<text transform="translate(592.9,1308.0) rotate(-90) scale(1,1.05)" stroke="#000" stroke-width="0.35">78</text>
<text transform="translate(592.9,1308.0) rotate(-90) scale(1,1.05)" stroke="#000" stroke-width="0.35">LuCaP</text>
<text transform="translate(624.7,1308.0) rotate(-90) scale(1,1.05)" stroke="#000" stroke-width="0.35">81</text>
<text transform="translate(624.7,1308.0) rotate(-90) scale(1,1.05)" stroke="#000" stroke-width="0.35">LuCaP</text>
<text transform="translate(657.8,1308.0) rotate(-90) scale(1,1.05)" stroke="#000" stroke-width="0.35">93</text>
<text transform="translate(657.8,1308.0) rotate(-90) scale(1,1.05)" stroke="#000" stroke-width="0.35">LuCaP</text>
<text transform="translate(690.2,1308.0) rotate(-90) scale(1,1.05)" stroke="#000" stroke-width="0.35">145.2</text>
<text transform="translate(690.2,1308.0) rotate(-90) scale(1,1.05)" stroke="#000" stroke-width="0.35">LuCaP</text>
<text transform="translate(720.2,1308.0) rotate(-90) scale(1,1.05)" stroke="#000" stroke-width="0.35">173.1</text>
<text transform="translate(745.9,1305.8) rotate(-90) scale(1,1.05)" stroke="#000" stroke-width="0.35">LuCaP</text>
<text transform="translate(777.8,1305.8) rotate(-90) scale(1,1.05)" stroke="#000" stroke-width="0.35">77</text>
<text transform="translate(777.8,1305.8) rotate(-90) scale(1,1.05)" stroke="#000" stroke-width="0.35">LuCaP</text>
<text transform="translate(812.1,1305.8) rotate(-90) scale(1,1.05)" stroke="#000" stroke-width="0.35">78</text>
<text transform="translate(812.1,1305.8) rotate(-90) scale(1,1.05)" stroke="#000" stroke-width="0.35">LuCaP</text>
<text transform="translate(843.9,1305.8) rotate(-90) scale(1,1.05)" stroke="#000" stroke-width="0.35">81</text>
<text transform="translate(843.9,1305.8) rotate(-90) scale(1,1.05)" stroke="#000" stroke-width="0.35">LuCaP</text>
<text transform="translate(877.0,1305.8) rotate(-90) scale(1,1.05)" stroke="#000" stroke-width="0.35">93</text>
<text transform="translate(877.0,1305.8) rotate(-90) scale(1,1.05)" stroke="#000" stroke-width="0.35">LuCaP</text>
<text transform="translate(909.4,1305.8) rotate(-90) scale(1,1.05)" stroke="#000" stroke-width="0.35">145.2</text>
<text transform="translate(909.4,1305.8) rotate(-90) scale(1,1.05)" stroke="#000" stroke-width="0.35">LuCaP</text>
<text transform="translate(939.4,1305.8) rotate(-90) scale(1,1.05)" stroke="#000" stroke-width="0.35">173.1</text>
<text transform="translate(132.7,1445.7) scale(1,1.05)" stroke="#000" stroke-width="0.35">Ne-</text>
<text transform="translate(132.7,1475.0) scale(1,1.05)" stroke="#000" stroke-width="0.35">CREs</text>
<text transform="translate(183.7,1680.8) scale(1,1.05)" text-anchor="middle" stroke="#000" stroke-width="0.35">Shared CREs</text>
<text transform="translate(183.7,1710.0) scale(1,1.05)" text-anchor="middle" stroke="#000" stroke-width="0.35">(subset)</text>
<text transform="translate(133.0,1823.8) scale(1,1.05)" stroke="#000" stroke-width="0.35">Ad-CREs</text>
<text transform="translate(382.5,1898.3) scale(1,1.05)" text-anchor="middle" stroke="#000" stroke-width="0.35">H3K27ac</text>
<text transform="translate(382.2,1926.5) scale(1,1.05)" text-anchor="middle" stroke="#000" stroke-width="0.35">ChIP-seq</text>
<text transform="translate(600.8,1898.3) scale(1,1.05)" text-anchor="middle" stroke="#000" stroke-width="0.35">FOXA1</text>
<text transform="translate(602.2,1926.5) scale(1,1.05)" text-anchor="middle" stroke="#000" stroke-width="0.35">ChIP-seq</text>
<text transform="translate(768.0,1898.3) scale(1,1.05)" stroke="#000" stroke-width="0.35">ATAC-</text>
<text transform="translate(768.0,1926.5) scale(1,1.05)" stroke="#000" stroke-width="0.35">seq</text>
</g>
<g id="panel-d">
<text x="1273.2" y="1189.3" style="font-size:58px" font-weight="bold">d</text>
<rect x="1516.7" y="1284.0" width="109.4" height="332.0" fill="#F4F2F8"/>
<rect x="1516.7" y="1620.6" width="109.4" height="138.4" fill="#F4F2F8"/>
<rect x="1516.7" y="1762.4" width="109.4" height="97.7" fill="#F4F2F8"/>
<rect x="1631.0" y="1284.0" width="109.0" height="332.0" fill="#F4F2F8"/>
<rect x="1631.0" y="1620.6" width="109.0" height="138.4" fill="#F4F2F8"/>
<rect x="1631.0" y="1762.4" width="109.0" height="97.7" fill="#F4F2F8"/>
<rect x="1743.2" y="1284.0" width="109.5" height="332.0" fill="#F4F2F8"/>
<rect x="1743.2" y="1620.6" width="109.5" height="138.4" fill="#F4F2F8"/>
<rect x="1743.2" y="1762.4" width="109.5" height="97.7" fill="#F4F2F8"/>
<rect x="1857.6" y="1284.0" width="109.0" height="332.0" fill="#F4F2F8"/>
<rect x="1857.6" y="1620.6" width="109.0" height="138.4" fill="#F4F2F8"/>
<rect x="1857.6" y="1762.4" width="109.0" height="97.7" fill="#F4F2F8"/>
<clipPath id="c105"><rect x="1516.70" y="1284.00" width="109.40" height="332.00"/></clipPath>
<g clip-path="url(#c105)">
<linearGradient id="g106" x1="0" y1="0" x2="0" y2="1"><stop offset="0" stop-color="#7E72C8" stop-opacity="0.07"/><stop offset="1" stop-color="#7E72C8" stop-opacity="0.0"/></linearGradient>
<polygon points="1549.0,1283.0 1593.0,1283.0 1577.0,1617.0 1565.0,1617.0" fill="url(#g106)" filter="url(#blur6_0)"/>
<linearGradient id="g107" x1="0" y1="0" x2="0" y2="1"><stop offset="0" stop-color="#4B35A0" stop-opacity="0.9"/><stop offset="0.5" stop-color="#4B35A0" stop-opacity="0.55"/><stop offset="1" stop-color="#4B35A0" stop-opacity="0.3"/></linearGradient>
<polygon points="1567.0,1283.0 1575.0,1283.0 1572.6,1617.0 1569.4,1617.0" fill="url(#g107)" filter="url(#blur1_5)"/>
</g>
<clipPath id="c108"><rect x="1631.00" y="1284.00" width="109.00" height="332.00"/></clipPath>
<g clip-path="url(#c108)">
<linearGradient id="g109" x1="0" y1="0" x2="0" y2="1"><stop offset="0" stop-color="#7E72C8" stop-opacity="0.09"/><stop offset="1" stop-color="#7E72C8" stop-opacity="0.0"/></linearGradient>
<polygon points="1661.4,1283.0 1709.4,1283.0 1691.4,1617.0 1679.4,1617.0" fill="url(#g109)" filter="url(#blur6_0)"/>
<linearGradient id="g110" x1="0" y1="0" x2="0" y2="1"><stop offset="0" stop-color="#4B35A0" stop-opacity="1.0"/><stop offset="0.5" stop-color="#4B35A0" stop-opacity="0.75"/><stop offset="1" stop-color="#4B35A0" stop-opacity="0.45"/></linearGradient>
<polygon points="1680.4,1283.0 1690.4,1283.0 1687.4,1617.0 1683.4,1617.0" fill="url(#g110)" filter="url(#blur1_5)"/>
</g>
<clipPath id="c111"><rect x="1743.20" y="1284.00" width="109.50" height="332.00"/></clipPath>
<g clip-path="url(#c111)">
<linearGradient id="g112" x1="0" y1="0" x2="0" y2="1"><stop offset="0" stop-color="#7E72C8" stop-opacity="0.25"/><stop offset="1" stop-color="#7E72C8" stop-opacity="0.0"/></linearGradient>
<polygon points="1762.3,1283.0 1834.3,1283.0 1810.3,1483.2 1786.3,1483.2" fill="url(#g112)" filter="url(#blur8_0)"/>
<linearGradient id="g113" x1="0" y1="0" x2="0" y2="1"><stop offset="0" stop-color="#4B35A0" stop-opacity="1.0"/><stop offset="0.5" stop-color="#4B35A0" stop-opacity="0.9"/><stop offset="1" stop-color="#4B35A0" stop-opacity="0.6"/></linearGradient>
<polygon points="1789.8,1283.0 1806.8,1283.0 1800.9,1617.0 1795.7,1617.0" fill="url(#g113)" filter="url(#blur2_0)"/>
<linearGradient id="g114" x1="0" y1="0" x2="0" y2="1"><stop offset="0" stop-color="#4E1090" stop-opacity="0.9"/><stop offset="1" stop-color="#4E1090" stop-opacity="0.0"/></linearGradient>
<polygon points="1790.3,1283.0 1806.3,1283.0 1802.3,1483.2 1794.3,1483.2" fill="url(#g114)" filter="url(#blur2_0)"/>
</g>
<clipPath id="c115"><rect x="1857.60" y="1284.00" width="109.00" height="332.00"/></clipPath>
<g clip-path="url(#c115)">
<linearGradient id="g116" x1="0" y1="0" x2="0" y2="1"><stop offset="0" stop-color="#7E72C8" stop-opacity="0.38"/><stop offset="1" stop-color="#7E72C8" stop-opacity="0.0"/></linearGradient>
<polygon points="1862.7,1283.0 1962.7,1283.0 1942.7,1367.0 1882.7,1367.0" fill="url(#g116)" filter="url(#blur8_0)"/>
<linearGradient id="g117" x1="0" y1="0" x2="0" y2="1"><stop offset="0" stop-color="#4B35A0" stop-opacity="1.0"/><stop offset="0.5" stop-color="#4B35A0" stop-opacity="0.6"/><stop offset="1" stop-color="#4B35A0" stop-opacity="0.05"/></linearGradient>
<polygon points="1905.2,1283.0 1920.2,1283.0 1914.2,1617.0 1911.2,1617.0" fill="url(#g117)" filter="url(#blur2_0)"/>
<linearGradient id="g118" x1="0" y1="0" x2="0" y2="1"><stop offset="0" stop-color="#4E1090" stop-opacity="0.9"/><stop offset="1" stop-color="#4E1090" stop-opacity="0.0"/></linearGradient>
<polygon points="1905.7,1283.0 1919.7,1283.0 1916.7,1400.2 1908.7,1400.2" fill="url(#g118)" filter="url(#blur2_0)"/>
</g>
<clipPath id="c119"><rect x="1516.70" y="1620.60" width="109.40" height="138.40"/></clipPath>
<g clip-path="url(#c119)">
<linearGradient id="g120" x1="0" y1="0" x2="0" y2="1"><stop offset="0" stop-color="#7E72C8" stop-opacity="0.08"/><stop offset="1" stop-color="#7E72C8" stop-opacity="0.0"/></linearGradient>
<polygon points="1545.0,1619.6 1597.0,1619.6 1575.0,1760.0 1567.0,1760.0" fill="url(#g120)" filter="url(#blur6_0)"/>
<linearGradient id="g121" x1="0" y1="0" x2="0" y2="1"><stop offset="0" stop-color="#4B35A0" stop-opacity="0.75"/><stop offset="0.5" stop-color="#4B35A0" stop-opacity="0.4"/><stop offset="1" stop-color="#4B35A0" stop-opacity="0.08"/></linearGradient>
<polygon points="1565.5,1619.6 1576.5,1619.6 1572.2,1760.0 1569.8,1760.0" fill="url(#g121)" filter="url(#blur1_5)"/>
</g>
<clipPath id="c122"><rect x="1631.00" y="1620.60" width="109.00" height="138.40"/></clipPath>
<g clip-path="url(#c122)">
<linearGradient id="g123" x1="0" y1="0" x2="0" y2="1"><stop offset="0" stop-color="#7E72C8" stop-opacity="0.1"/><stop offset="1" stop-color="#7E72C8" stop-opacity="0.0"/></linearGradient>
<polygon points="1657.4,1619.6 1713.4,1619.6 1689.4,1760.0 1681.4,1760.0" fill="url(#g123)" filter="url(#blur6_0)"/>
<linearGradient id="g124" x1="0" y1="0" x2="0" y2="1"><stop offset="0" stop-color="#4B35A0" stop-opacity="0.95"/><stop offset="0.5" stop-color="#4B35A0" stop-opacity="0.65"/><stop offset="1" stop-color="#4B35A0" stop-opacity="0.25"/></linearGradient>
<polygon points="1677.4,1619.6 1693.4,1619.6 1687.0,1760.0 1683.8,1760.0" fill="url(#g124)" filter="url(#blur1_5)"/>
</g>
<clipPath id="c125"><rect x="1743.20" y="1620.60" width="109.50" height="138.40"/></clipPath>
<g clip-path="url(#c125)">
<linearGradient id="g126" x1="0" y1="0" x2="0" y2="1"><stop offset="0" stop-color="#7E72C8" stop-opacity="0.22"/><stop offset="1" stop-color="#7E72C8" stop-opacity="0.0"/></linearGradient>
<polygon points="1752.3,1619.6 1844.3,1619.6 1818.3,1689.8 1778.3,1689.8" fill="url(#g126)" filter="url(#blur8_0)"/>
<linearGradient id="g127" x1="0" y1="0" x2="0" y2="1"><stop offset="0" stop-color="#4B35A0" stop-opacity="1.0"/><stop offset="0.5" stop-color="#4B35A0" stop-opacity="1.0"/><stop offset="1" stop-color="#4B35A0" stop-opacity="0.8"/></linearGradient>
<polygon points="1787.8,1619.6 1808.8,1619.6 1800.9,1760.0 1795.7,1760.0" fill="url(#g127)" filter="url(#blur1_5)"/>
<linearGradient id="g128" x1="0" y1="0" x2="0" y2="1"><stop offset="0" stop-color="#4E1090" stop-opacity="1.0"/><stop offset="0.5" stop-color="#4E1090" stop-opacity="0.8"/><stop offset="1" stop-color="#4E1090" stop-opacity="0.3"/></linearGradient>
<polygon points="1788.3,1619.6 1808.3,1619.6 1801.3,1760.0 1795.3,1760.0" fill="url(#g128)" filter="url(#blur1_5)"/>
</g>
<clipPath id="c129"><rect x="1857.60" y="1620.60" width="109.00" height="138.40"/></clipPath>
<g clip-path="url(#c129)">
<linearGradient id="g130" x1="0" y1="0" x2="0" y2="1"><stop offset="0" stop-color="#4B35A0" stop-opacity="0.1"/><stop offset="1" stop-color="#4B35A0" stop-opacity="0.03"/></linearGradient>
<polygon points="1909.7,1619.6 1915.7,1619.6 1914.7,1760.0 1910.7,1760.0" fill="url(#g130)" filter="url(#blur1_5)"/>
</g>
<clipPath id="c131"><rect x="1516.70" y="1762.40" width="109.40" height="97.70"/></clipPath>
<g clip-path="url(#c131)">
<linearGradient id="g132" x1="0" y1="0" x2="0" y2="1"><stop offset="0" stop-color="#4B35A0" stop-opacity="0.04"/><stop offset="1" stop-color="#4B35A0" stop-opacity="0.02"/></linearGradient>
<polygon points="1568.0,1761.4 1574.0,1761.4 1574.0,1861.1 1568.0,1861.1" fill="url(#g132)" filter="url(#blur2_0)"/>
</g>
<clipPath id="c133"><rect x="1631.00" y="1762.40" width="109.00" height="97.70"/></clipPath>
<g clip-path="url(#c133)">
<linearGradient id="g134" x1="0" y1="0" x2="0" y2="1"><stop offset="0" stop-color="#4B35A0" stop-opacity="0.04"/><stop offset="1" stop-color="#4B35A0" stop-opacity="0.02"/></linearGradient>
<polygon points="1682.4,1761.4 1688.4,1761.4 1688.4,1861.1 1682.4,1861.1" fill="url(#g134)" filter="url(#blur2_0)"/>
</g>
<clipPath id="c135"><rect x="1743.20" y="1762.40" width="109.50" height="97.70"/></clipPath>
<g clip-path="url(#c135)">
<linearGradient id="g136" x1="0" y1="0" x2="0" y2="1"><stop offset="0" stop-color="#4B35A0" stop-opacity="0.06"/><stop offset="1" stop-color="#4B35A0" stop-opacity="0.03"/></linearGradient>
<polygon points="1795.3,1761.4 1801.3,1761.4 1801.3,1861.1 1795.3,1861.1" fill="url(#g136)" filter="url(#blur2_0)"/>
</g>
<clipPath id="c137"><rect x="1857.60" y="1762.40" width="109.00" height="97.70"/></clipPath>
<g clip-path="url(#c137)">
<linearGradient id="g138" x1="0" y1="0" x2="0" y2="1"><stop offset="0" stop-color="#7E72C8" stop-opacity="0.3"/><stop offset="1" stop-color="#7E72C8" stop-opacity="0.0"/></linearGradient>
<polygon points="1862.7,1761.4 1962.7,1761.4 1932.7,1796.6 1892.7,1796.6" fill="url(#g138)" filter="url(#blur8_0)"/>
<linearGradient id="g139" x1="0" y1="0" x2="0" y2="1"><stop offset="0" stop-color="#4B35A0" stop-opacity="1.0"/><stop offset="0.5" stop-color="#4B35A0" stop-opacity="0.9"/><stop offset="1" stop-color="#4B35A0" stop-opacity="0.7"/></linearGradient>
<polygon points="1903.7,1761.4 1921.7,1761.4 1914.9,1861.1 1910.5,1861.1" fill="url(#g139)" filter="url(#blur1_5)"/>
<linearGradient id="g140" x1="0" y1="0" x2="0" y2="1"><stop offset="0" stop-color="#4E1090" stop-opacity="0.9"/><stop offset="1" stop-color="#4E1090" stop-opacity="0.0"/></linearGradient>
<polygon points="1904.2,1761.4 1921.2,1761.4 1916.7,1811.2 1908.7,1811.2" fill="url(#g140)" filter="url(#blur1_5)"/>
</g>
<ellipse cx="1798.3" cy="1620.8" rx="12" ry="1.8" fill="#3A0A70" opacity="0.8"/>
<ellipse cx="1912.7" cy="1620.6" rx="6" ry="1.2" fill="#3A0A70" opacity="0.7"/>
<text transform="translate(1613.7,1221.6) scale(1,1.05)" text-anchor="middle" stroke="#000" stroke-width="0.35">Normal</text>
<text transform="translate(1613.5,1250.3) scale(1,1.05)" text-anchor="middle" stroke="#000" stroke-width="0.35">prostate</text>
<text transform="translate(1733.0,1221.6) scale(1,1.05)" text-anchor="middle" stroke="#000" stroke-width="0.35">Primary</text>
<text transform="translate(1733.7,1250.3) scale(1,1.05)" text-anchor="middle" stroke="#000" stroke-width="0.35">PRAD</text>
<text transform="translate(1850.8,1221.6) scale(1,1.05)" text-anchor="middle" stroke="#000" stroke-width="0.35">Met</text>
<text transform="translate(1850.3,1250.3) scale(1,1.05)" text-anchor="middle" stroke="#000" stroke-width="0.35">PRAD</text>
<text transform="translate(1933.4,1253.0) scale(1,1.05)" stroke="#000" stroke-width="0.35">NEPC</text>
<text transform="translate(1333.6,1433.6) scale(1,1.05)" text-anchor="middle" stroke="#000" stroke-width="0.35">Shared</text>
<text transform="translate(1333.6,1462.5) scale(1,1.05)" text-anchor="middle" stroke="#000" stroke-width="0.35">(all states)</text>
<text transform="translate(1333.4,1490.9) scale(1,1.05)" text-anchor="middle" stroke="#000" stroke-width="0.35">(N=70,311)</text>
<text transform="translate(1176.2,1632.4) scale(1,1.05)" stroke="#000" stroke-width="0.35">met-PRAD &gt; primary PRAD</text>
<text transform="translate(1326.3,1660.8) scale(1,1.05)" text-anchor="middle" stroke="#000" stroke-width="0.35">(N=430)</text>
<polygon points="1486,1614 1510.5,1626 1486,1638" fill="#000"/>
<text transform="translate(1327.2,1708.3) scale(1,1.05)" text-anchor="middle" stroke="#000" stroke-width="0.35">met-PRAD &gt; NEPC</text>
<text transform="translate(1327.2,1737.0) scale(1,1.05)" text-anchor="middle" stroke="#000" stroke-width="0.35">(N=29,308)</text>
<text transform="translate(1338.5,1806.0) scale(1,1.05)" text-anchor="middle" stroke="#000" stroke-width="0.35">NEPC &gt; met-PRAD</text>
<text transform="translate(1338.5,1835.0) scale(1,1.05)" text-anchor="middle" stroke="#000" stroke-width="0.35">(N=20,935)</text>
<text transform="translate(1741.0,1898.6) scale(1,1.05)" text-anchor="middle" stroke="#000" stroke-width="0.35">FOXA1</text>
<text transform="translate(1741.8,1926.9) scale(1,1.05)" text-anchor="middle" stroke="#000" stroke-width="0.35">ChIP-seq</text>
</g>
<defs><filter id="blur1_5" x="-100%" y="-5%" width="300%" height="110%"><feGaussianBlur stdDeviation="1.5 0.6"/></filter><filter id="blur2_0" x="-100%" y="-5%" width="300%" height="110%"><feGaussianBlur stdDeviation="2.0 0.6"/></filter><filter id="blur2_5" x="-100%" y="-5%" width="300%" height="110%"><feGaussianBlur stdDeviation="2.5 0.6"/></filter><filter id="blur3_0" x="-100%" y="-5%" width="300%" height="110%"><feGaussianBlur stdDeviation="3.0 0.6"/></filter><filter id="blur4_0" x="-100%" y="-5%" width="300%" height="110%"><feGaussianBlur stdDeviation="4.0 0.6"/></filter><filter id="blur6_0" x="-100%" y="-5%" width="300%" height="110%"><feGaussianBlur stdDeviation="6.0 0.6"/></filter><filter id="blur8_0" x="-100%" y="-5%" width="300%" height="110%"><feGaussianBlur stdDeviation="8.0 0.6"/></filter></defs>
</svg>
</body></html>
